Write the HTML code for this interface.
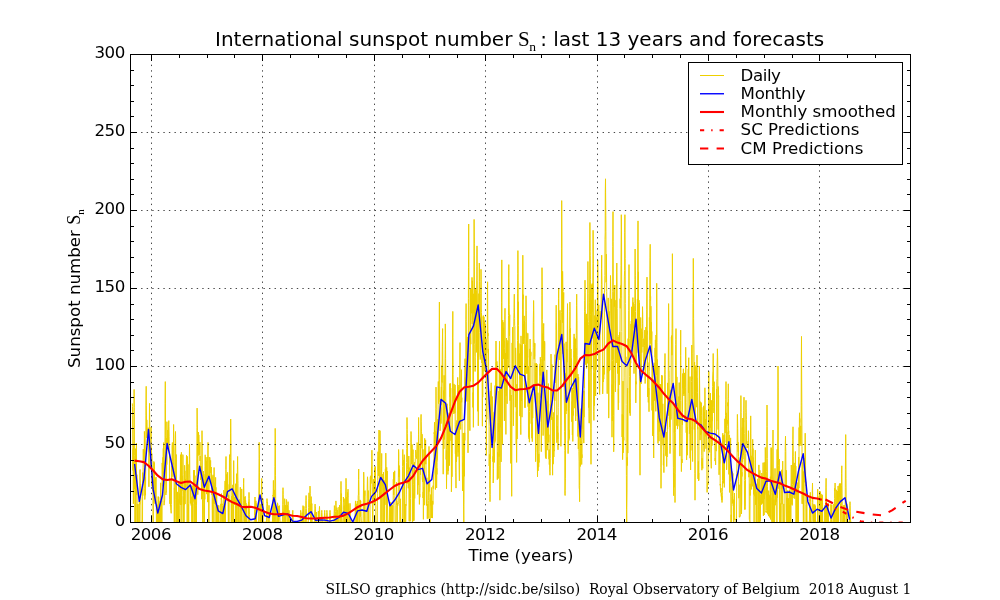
<!DOCTYPE html>
<html><head><meta charset="utf-8"><title>International sunspot number</title>
<style>html,body{margin:0;padding:0;background:#fff;width:1000px;height:600px;overflow:hidden}</style></head>
<body>
<svg width="1000" height="600" viewBox="0 0 1000 600" style="position:absolute;left:0;top:0">
<defs><clipPath id="ax"><rect x="130" y="54" width="780" height="468"/></clipPath></defs>
<rect x="0" y="0" width="1000" height="600" fill="#fff"/>
<g clip-path="url(#ax)" fill="none" stroke-linejoin="round">
<path d="M132.3,403.4 L132.5,406.5 L132.6,415.4 L132.8,447.7 L132.9,470.4 L133.1,449.7 L133.2,473.2 L133.4,503.8 L133.5,445.6 L133.7,447.1 L133.8,455.7 L134.0,407.9 L134.1,389.4 L134.3,407.6 L134.4,455.7 L134.6,488.9 L134.8,471.3 L134.9,522.0 L135.1,522.0 L135.2,481.0 L135.4,478.9 L135.5,448.7 L135.7,484.6 L135.8,522.0 L136.0,490.4 L136.1,489.2 L136.3,477.9 L136.4,443.1 L136.6,494.8 L136.7,483.4 L136.9,474.6 L137.0,475.6 L137.2,522.0 L137.3,503.9 L137.5,522.0 L137.7,522.0 L137.8,522.0 L138.0,522.0 L138.1,522.0 L138.3,522.0 L138.4,522.0 L138.6,522.0 L138.7,522.0 L138.9,504.9 L139.0,504.0 L139.2,522.0 L139.3,500.9 L139.5,504.6 L139.6,500.9 L139.8,504.3 L139.9,472.1 L140.1,469.5 L140.2,478.1 L140.4,493.4 L140.5,485.0 L140.7,484.2 L140.9,503.2 L141.0,522.0 L141.2,522.0 L141.3,522.0 L141.5,522.0 L141.6,522.0 L141.8,522.0 L141.9,522.0 L142.1,522.0 L142.2,522.0 L142.4,522.0 L142.5,522.0 L142.7,472.6 L142.8,495.6 L143.0,485.3 L143.1,467.6 L143.3,449.1 L143.4,460.3 L143.6,459.8 L143.8,457.8 L143.9,451.1 L144.1,449.8 L144.2,454.0 L144.4,431.4 L144.5,434.9 L144.7,488.6 L144.8,499.5 L145.0,497.2 L145.1,494.2 L145.3,477.2 L145.4,495.2 L145.6,482.8 L145.7,465.6 L145.9,415.9 L146.0,400.1 L146.2,386.3 L146.3,405.8 L146.5,422.3 L146.7,437.7 L146.8,419.9 L147.0,429.1 L147.1,438.1 L147.3,438.3 L147.4,437.2 L147.6,429.9 L147.7,428.9 L147.9,439.9 L148.0,437.9 L148.2,427.7 L148.3,436.1 L148.5,445.5 L148.6,451.7 L148.8,433.8 L148.9,486.8 L149.1,451.2 L149.2,443.0 L149.4,419.7 L149.5,403.4 L149.7,420.7 L149.9,446.6 L150.0,452.9 L150.2,449.2 L150.3,469.1 L150.5,456.0 L150.6,445.6 L150.8,443.5 L150.9,440.4 L151.1,427.1 L151.2,462.9 L151.4,452.6 L151.5,447.5 L151.7,474.0 L151.8,453.6 L152.0,486.4 L152.1,477.0 L152.3,485.4 L152.4,482.8 L152.6,491.3 L152.8,476.9 L152.9,482.5 L153.1,522.0 L153.2,522.0 L153.4,503.6 L153.5,493.6 L153.7,497.4 L153.8,461.4 L154.0,469.1 L154.1,482.7 L154.3,462.6 L154.4,462.6 L154.6,476.2 L154.7,501.9 L154.9,503.0 L155.0,503.8 L155.2,501.5 L155.3,478.1 L155.5,503.8 L155.7,503.3 L155.8,500.3 L156.0,477.0 L156.1,498.4 L156.3,505.5 L156.4,522.0 L156.6,522.0 L156.7,522.0 L156.9,522.0 L157.0,504.6 L157.2,504.4 L157.3,522.0 L157.5,522.0 L157.6,505.3 L157.8,522.0 L157.9,522.0 L158.1,522.0 L158.2,496.5 L158.4,522.0 L158.5,522.0 L158.7,497.2 L158.9,522.0 L159.0,500.9 L159.2,505.5 L159.3,504.7 L159.5,522.0 L159.6,522.0 L159.8,522.0 L159.9,505.9 L160.1,522.0 L160.2,522.0 L160.4,522.0 L160.5,488.9 L160.7,482.8 L160.8,496.0 L161.0,505.0 L161.1,522.0 L161.3,501.1 L161.4,503.1 L161.6,503.9 L161.8,522.0 L161.9,522.0 L162.1,502.3 L162.2,462.9 L162.4,477.3 L162.5,486.3 L162.7,478.6 L162.8,459.9 L163.0,457.3 L163.1,465.2 L163.3,448.4 L163.4,473.5 L163.6,458.9 L163.7,442.6 L163.9,481.5 L164.0,505.2 L164.2,504.9 L164.3,501.3 L164.5,502.2 L164.7,499.0 L164.8,464.2 L165.0,437.9 L165.1,403.7 L165.3,381.6 L165.4,403.1 L165.6,435.9 L165.7,462.7 L165.9,495.0 L166.0,492.1 L166.2,491.6 L166.3,492.3 L166.5,470.0 L166.6,438.3 L166.8,464.6 L166.9,421.7 L167.1,431.8 L167.2,444.2 L167.4,443.1 L167.5,430.2 L167.7,431.0 L167.9,443.0 L168.0,450.3 L168.2,446.2 L168.3,430.9 L168.5,443.2 L168.6,424.1 L168.8,420.6 L168.9,426.3 L169.1,436.2 L169.2,450.4 L169.4,452.3 L169.5,451.9 L169.7,499.4 L169.8,503.0 L170.0,503.9 L170.1,479.8 L170.3,481.6 L170.4,506.2 L170.6,504.6 L170.8,510.3 L170.9,510.8 L171.1,512.0 L171.2,513.3 L171.4,504.4 L171.5,466.0 L171.7,478.1 L171.8,476.0 L172.0,463.3 L172.1,446.2 L172.3,444.5 L172.4,442.5 L172.6,461.2 L172.7,468.8 L172.9,465.3 L173.0,476.8 L173.2,462.9 L173.3,464.5 L173.5,436.0 L173.6,424.5 L173.8,444.0 L174.0,448.9 L174.1,467.4 L174.3,522.0 L174.4,487.8 L174.6,522.0 L174.7,522.0 L174.9,494.1 L175.0,476.7 L175.2,458.6 L175.3,435.8 L175.5,431.5 L175.6,438.2 L175.8,458.1 L175.9,499.4 L176.1,522.0 L176.2,454.5 L176.4,490.8 L176.5,488.6 L176.7,522.0 L176.9,503.3 L177.0,522.0 L177.2,522.0 L177.3,493.2 L177.5,522.0 L177.6,491.9 L177.8,522.0 L177.9,522.0 L178.1,499.0 L178.2,522.0 L178.4,503.5 L178.5,522.0 L178.7,489.9 L178.8,483.2 L179.0,486.8 L179.1,483.1 L179.3,503.3 L179.4,493.5 L179.6,500.3 L179.8,505.6 L179.9,522.0 L180.1,490.1 L180.2,477.8 L180.4,473.4 L180.5,454.7 L180.7,505.0 L180.8,457.6 L181.0,473.5 L181.1,466.4 L181.3,476.5 L181.4,452.3 L181.6,504.7 L181.7,496.4 L181.9,522.0 L182.0,475.9 L182.2,489.1 L182.3,480.7 L182.5,488.0 L182.6,490.4 L182.8,454.6 L183.0,455.3 L183.1,474.2 L183.3,495.6 L183.4,501.3 L183.6,522.0 L183.7,522.0 L183.9,490.4 L184.0,522.0 L184.2,504.0 L184.3,499.0 L184.5,505.1 L184.6,465.3 L184.8,480.4 L184.9,470.8 L185.1,504.1 L185.2,493.8 L185.4,490.0 L185.5,479.2 L185.7,486.0 L185.9,487.1 L186.0,486.3 L186.2,477.3 L186.3,464.7 L186.5,455.2 L186.6,464.3 L186.8,466.3 L186.9,486.2 L187.1,486.8 L187.2,522.0 L187.4,456.4 L187.5,460.6 L187.7,468.2 L187.8,484.0 L188.0,464.4 L188.1,522.0 L188.3,522.0 L188.4,504.3 L188.6,522.0 L188.8,522.0 L188.9,489.2 L189.1,483.1 L189.2,468.3 L189.4,456.2 L189.5,444.0 L189.7,459.6 L189.8,474.2 L190.0,478.8 L190.1,487.0 L190.3,488.1 L190.4,503.4 L190.6,484.0 L190.7,487.9 L190.9,485.5 L191.0,495.7 L191.2,505.5 L191.3,499.0 L191.5,496.8 L191.6,499.4 L191.8,522.0 L192.0,504.7 L192.1,503.3 L192.3,500.7 L192.4,485.6 L192.6,522.0 L192.7,503.9 L192.9,522.0 L193.0,522.0 L193.2,503.9 L193.3,500.8 L193.5,492.2 L193.6,470.2 L193.8,495.4 L193.9,501.3 L194.1,495.4 L194.2,479.1 L194.4,478.4 L194.5,470.1 L194.7,522.0 L194.9,478.2 L195.0,475.6 L195.2,504.0 L195.3,492.9 L195.5,501.6 L195.6,505.2 L195.8,522.0 L195.9,522.0 L196.1,501.9 L196.2,522.0 L196.4,522.0 L196.5,505.5 L196.7,493.5 L196.8,465.1 L197.0,427.4 L197.1,408.1 L197.3,424.2 L197.4,430.3 L197.6,458.1 L197.8,494.6 L197.9,444.6 L198.1,449.6 L198.2,455.6 L198.4,439.8 L198.5,432.1 L198.7,454.2 L198.8,434.9 L199.0,449.8 L199.1,451.1 L199.3,446.7 L199.4,452.4 L199.6,444.2 L199.7,454.8 L199.9,442.1 L200.0,460.9 L200.2,455.8 L200.3,459.8 L200.5,473.9 L200.6,479.8 L200.8,473.1 L201.0,466.0 L201.1,478.8 L201.3,472.1 L201.4,482.9 L201.6,499.2 L201.7,476.4 L201.9,449.0 L202.0,430.7 L202.2,449.0 L202.3,476.4 L202.5,499.2 L202.6,522.0 L202.8,522.0 L202.9,522.0 L203.1,522.0 L203.2,522.0 L203.4,471.1 L203.5,484.3 L203.7,493.5 L203.9,474.2 L204.0,505.4 L204.2,522.0 L204.3,505.0 L204.5,522.0 L204.6,481.8 L204.8,499.3 L204.9,486.3 L205.1,466.6 L205.2,454.8 L205.4,477.0 L205.5,476.0 L205.7,484.3 L205.8,457.2 L206.0,469.2 L206.1,466.5 L206.3,465.6 L206.4,460.9 L206.6,494.1 L206.8,483.3 L206.9,471.6 L207.1,457.2 L207.2,467.2 L207.4,483.4 L207.5,502.1 L207.7,482.2 L207.8,458.4 L208.0,442.4 L208.1,454.9 L208.3,482.2 L208.4,502.1 L208.6,492.9 L208.7,522.0 L208.9,522.0 L209.0,522.0 L209.2,457.2 L209.3,459.2 L209.5,466.7 L209.6,477.7 L209.8,457.4 L210.0,472.8 L210.1,470.3 L210.3,468.3 L210.4,472.3 L210.6,460.4 L210.7,467.8 L210.9,472.3 L211.0,467.1 L211.2,481.7 L211.3,467.1 L211.5,476.7 L211.6,493.2 L211.8,494.8 L211.9,492.7 L212.1,476.4 L212.2,504.3 L212.4,522.0 L212.5,498.3 L212.7,522.0 L212.9,503.4 L213.0,474.8 L213.2,480.6 L213.3,503.4 L213.5,498.8 L213.6,499.5 L213.8,504.7 L213.9,522.0 L214.1,467.5 L214.2,502.8 L214.4,502.0 L214.5,503.6 L214.7,499.1 L214.8,488.8 L215.0,482.7 L215.1,490.0 L215.3,485.5 L215.4,493.3 L215.6,477.4 L215.8,504.8 L215.9,487.3 L216.1,522.0 L216.2,503.9 L216.4,522.0 L216.5,502.8 L216.7,492.9 L216.8,504.7 L217.0,522.0 L217.1,522.0 L217.3,522.0 L217.4,522.0 L217.6,522.0 L217.7,505.2 L217.9,505.6 L218.0,522.0 L218.2,522.0 L218.3,522.0 L218.5,522.0 L218.6,522.0 L218.8,505.4 L219.0,522.0 L219.1,522.0 L219.3,522.0 L219.4,522.0 L219.6,522.0 L219.7,522.0 L219.9,522.0 L220.0,522.0 L220.2,522.0 L220.3,522.0 L220.5,522.0 L220.6,522.0 L220.8,522.0 L220.9,503.8 L221.1,522.0 L221.2,498.2 L221.4,499.8 L221.5,493.6 L221.7,500.1 L221.9,500.2 L222.0,505.3 L222.2,503.8 L222.3,522.0 L222.5,522.0 L222.6,522.0 L222.8,506.0 L222.9,522.0 L223.1,522.0 L223.2,522.0 L223.4,522.0 L223.5,522.0 L223.7,522.0 L223.8,490.1 L224.0,493.4 L224.1,522.0 L224.3,504.7 L224.4,522.0 L224.6,492.0 L224.7,522.0 L224.9,487.1 L225.1,480.9 L225.2,500.8 L225.4,522.0 L225.5,505.6 L225.7,489.2 L225.8,469.6 L226.0,456.5 L226.1,469.6 L226.3,489.2 L226.4,479.3 L226.6,494.9 L226.7,474.4 L226.9,496.2 L227.0,475.5 L227.2,487.1 L227.3,496.5 L227.5,482.5 L227.6,472.3 L227.8,495.2 L228.0,494.7 L228.1,504.3 L228.3,522.0 L228.4,522.0 L228.6,522.0 L228.7,495.2 L228.9,522.0 L229.0,494.2 L229.2,484.4 L229.3,489.2 L229.5,457.0 L229.6,454.6 L229.8,456.5 L229.9,491.2 L230.1,478.0 L230.2,461.6 L230.4,457.4 L230.5,433.9 L230.7,419.0 L230.9,432.6 L231.0,462.2 L231.2,496.3 L231.3,522.0 L231.5,496.2 L231.6,522.0 L231.8,522.0 L231.9,504.6 L232.1,504.1 L232.2,504.4 L232.4,501.8 L232.5,492.4 L232.7,504.2 L232.8,484.8 L233.0,522.0 L233.1,499.7 L233.3,522.0 L233.4,499.7 L233.6,472.0 L233.7,460.6 L233.9,480.9 L234.1,504.5 L234.2,502.3 L234.4,497.2 L234.5,502.5 L234.7,504.8 L234.8,502.0 L235.0,504.5 L235.1,505.0 L235.3,505.4 L235.4,522.0 L235.6,492.1 L235.7,483.7 L235.9,522.0 L236.0,502.1 L236.2,504.1 L236.3,522.0 L236.5,503.5 L236.6,473.7 L236.8,500.6 L237.0,522.0 L237.1,493.1 L237.3,476.2 L237.4,469.6 L237.6,456.5 L237.7,465.5 L237.9,480.3 L238.0,483.5 L238.2,522.0 L238.3,503.8 L238.5,505.3 L238.6,505.1 L238.8,500.1 L238.9,522.0 L239.1,522.0 L239.2,522.0 L239.4,522.0 L239.5,522.0 L239.7,522.0 L239.9,504.6 L240.0,499.3 L240.2,503.5 L240.3,487.2 L240.5,505.6 L240.6,522.0 L240.8,522.0 L240.9,522.0 L241.1,522.0 L241.2,503.5 L241.4,522.0 L241.5,506.3 L241.7,488.9 L241.8,491.1 L242.0,522.0 L242.1,522.0 L242.3,522.0 L242.4,522.0 L242.6,522.0 L242.7,522.0 L242.9,522.0 L243.1,522.0 L243.2,511.1 L243.4,500.2 L243.5,483.5 L243.7,478.3 L243.8,487.1 L244.0,500.2 L244.1,511.1 L244.3,522.0 L244.4,522.0 L244.6,497.1 L244.7,522.0 L244.9,522.0 L245.0,501.3 L245.2,496.3 L245.3,522.0 L245.5,502.5 L245.6,500.4 L245.8,503.8 L246.0,503.0 L246.1,522.0 L246.3,522.0 L246.4,522.0 L246.6,522.0 L246.7,504.5 L246.9,522.0 L247.0,522.0 L247.2,522.0 L247.3,522.0 L247.5,522.0 L247.6,522.0 L247.8,522.0 L247.9,522.0 L248.1,522.0 L248.2,522.0 L248.4,522.0 L248.5,501.9 L248.7,507.2 L248.9,498.3 L249.0,492.4 L249.2,498.3 L249.3,507.2 L249.5,514.6 L249.6,522.0 L249.8,522.0 L249.9,522.0 L250.1,522.0 L250.2,522.0 L250.4,522.0 L250.5,522.0 L250.7,522.0 L250.8,522.0 L251.0,522.0 L251.1,522.0 L251.3,522.0 L251.4,522.0 L251.6,522.0 L251.7,522.0 L251.9,522.0 L252.1,522.0 L252.2,522.0 L252.4,522.0 L252.5,522.0 L252.7,522.0 L252.8,522.0 L253.0,522.0 L253.1,522.0 L253.3,522.0 L253.4,522.0 L253.6,522.0 L253.7,522.0 L253.9,522.0 L254.0,522.0 L254.2,522.0 L254.3,522.0 L254.5,515.8 L254.6,509.5 L254.8,502.0 L255.0,497.0 L255.1,498.7 L255.3,509.5 L255.4,515.8 L255.6,522.0 L255.7,522.0 L255.9,500.8 L256.0,522.0 L256.2,503.5 L256.3,522.0 L256.5,522.0 L256.6,522.0 L256.8,522.0 L256.9,522.0 L257.1,522.0 L257.2,522.0 L257.4,522.0 L257.5,522.0 L257.7,522.0 L257.9,522.0 L258.0,522.0 L258.2,522.0 L258.3,522.0 L258.5,522.0 L258.6,522.0 L258.8,502.1 L258.9,482.2 L259.1,458.4 L259.2,442.4 L259.4,454.8 L259.5,472.9 L259.7,502.1 L259.8,505.4 L260.0,522.0 L260.1,522.0 L260.3,504.6 L260.4,522.0 L260.6,522.0 L260.7,522.0 L260.9,505.5 L261.1,504.4 L261.2,504.2 L261.4,505.3 L261.5,522.0 L261.7,478.4 L261.8,503.7 L262.0,522.0 L262.1,522.0 L262.3,522.0 L262.4,522.0 L262.6,503.4 L262.7,522.0 L262.9,498.7 L263.0,522.0 L263.2,522.0 L263.3,522.0 L263.5,522.0 L263.6,522.0 L263.8,522.0 L264.0,522.0 L264.1,522.0 L264.3,522.0 L264.4,522.0 L264.6,522.0 L264.7,522.0 L264.9,522.0 L265.0,522.0 L265.2,522.0 L265.3,522.0 L265.5,522.0 L265.6,522.0 L265.8,522.0 L265.9,522.0 L266.1,522.0 L266.2,522.0 L266.4,522.0 L266.5,516.1 L266.7,510.3 L266.9,503.3 L267.0,498.6 L267.2,503.3 L267.3,502.2 L267.5,503.2 L267.6,506.2 L267.8,522.0 L267.9,522.0 L268.1,522.0 L268.2,522.0 L268.4,522.0 L268.5,522.0 L268.7,522.0 L268.8,522.0 L269.0,505.3 L269.1,522.0 L269.3,522.0 L269.4,522.0 L269.6,522.0 L269.7,522.0 L269.9,522.0 L270.1,522.0 L270.2,522.0 L270.4,522.0 L270.5,522.0 L270.7,522.0 L270.8,522.0 L271.0,522.0 L271.1,522.0 L271.3,522.0 L271.4,522.0 L271.6,522.0 L271.7,522.0 L271.9,522.0 L272.0,522.0 L272.2,522.0 L272.3,522.0 L272.5,522.0 L272.6,504.9 L272.8,503.5 L273.0,495.0 L273.1,496.0 L273.3,490.4 L273.4,480.4 L273.6,522.0 L273.7,505.4 L273.9,504.2 L274.0,522.0 L274.2,489.9 L274.3,502.4 L274.5,522.0 L274.6,522.0 L274.8,498.6 L274.9,466.3 L275.1,443.8 L275.2,428.4 L275.4,447.1 L275.5,475.2 L275.7,498.6 L275.8,522.0 L276.0,505.9 L276.2,522.0 L276.3,522.0 L276.5,522.0 L276.6,522.0 L276.8,522.0 L276.9,522.0 L277.1,522.0 L277.2,522.0 L277.4,522.0 L277.5,502.8 L277.7,504.1 L277.8,504.0 L278.0,522.0 L278.1,522.0 L278.3,522.0 L278.4,522.0 L278.6,506.1 L278.7,522.0 L278.9,517.9 L279.1,513.8 L279.2,508.9 L279.4,505.6 L279.5,508.9 L279.7,513.8 L279.8,517.9 L280.0,522.0 L280.1,522.0 L280.3,522.0 L280.4,522.0 L280.6,522.0 L280.7,522.0 L280.9,522.0 L281.0,522.0 L281.2,522.0 L281.3,522.0 L281.5,522.0 L281.6,522.0 L281.8,522.0 L282.0,522.0 L282.1,522.0 L282.3,522.0 L282.4,522.0 L282.6,513.4 L282.7,504.8 L282.9,490.6 L283.0,487.7 L283.2,494.5 L283.3,504.8 L283.5,513.4 L283.6,522.0 L283.8,522.0 L283.9,522.0 L284.1,522.0 L284.2,522.0 L284.4,522.0 L284.5,522.0 L284.7,498.7 L284.8,503.3 L285.0,522.0 L285.2,505.0 L285.3,505.3 L285.5,522.0 L285.6,522.0 L285.8,522.0 L285.9,505.7 L286.1,516.4 L286.2,510.8 L286.4,500.6 L286.5,499.5 L286.7,500.9 L286.8,510.8 L287.0,516.4 L287.1,522.0 L287.3,522.0 L287.4,505.1 L287.6,516.9 L287.7,511.9 L287.9,505.8 L288.1,501.7 L288.2,505.8 L288.4,511.9 L288.5,516.9 L288.7,522.0 L288.8,522.0 L289.0,510.3 L289.1,510.5 L289.3,522.0 L289.4,522.0 L289.6,522.0 L289.7,522.0 L289.9,522.0 L290.0,522.0 L290.2,522.0 L290.3,522.0 L290.5,522.0 L290.6,522.0 L290.8,522.0 L291.0,522.0 L291.1,522.0 L291.3,522.0 L291.4,522.0 L291.6,522.0 L291.7,522.0 L291.9,522.0 L292.0,522.0 L292.2,522.0 L292.3,519.1 L292.5,512.3 L292.6,512.6 L292.8,510.3 L292.9,512.6 L293.1,516.1 L293.2,519.1 L293.4,522.0 L293.5,522.0 L293.7,522.0 L293.8,522.0 L294.0,522.0 L294.2,522.0 L294.3,522.0 L294.5,522.0 L294.6,522.0 L294.8,522.0 L294.9,522.0 L295.1,522.0 L295.2,522.0 L295.4,522.0 L295.5,522.0 L295.7,522.0 L295.8,522.0 L296.0,522.0 L296.1,522.0 L296.3,522.0 L296.4,522.0 L296.6,522.0 L296.7,522.0 L296.9,522.0 L297.1,522.0 L297.2,522.0 L297.4,522.0 L297.5,522.0 L297.7,522.0 L297.8,522.0 L298.0,522.0 L298.1,522.0 L298.3,522.0 L298.4,522.0 L298.6,522.0 L298.7,522.0 L298.9,522.0 L299.0,522.0 L299.2,522.0 L299.3,522.0 L299.5,522.0 L299.6,522.0 L299.8,522.0 L300.0,522.0 L300.1,522.0 L300.3,519.1 L300.4,516.1 L300.6,512.6 L300.7,510.3 L300.9,512.6 L301.0,516.1 L301.2,519.1 L301.3,522.0 L301.5,522.0 L301.6,522.0 L301.8,522.0 L301.9,522.0 L302.1,522.0 L302.2,512.6 L302.4,522.0 L302.5,517.9 L302.7,513.8 L302.8,508.9 L303.0,505.6 L303.2,508.9 L303.3,513.8 L303.5,507.6 L303.6,522.0 L303.8,522.0 L303.9,506.3 L304.1,522.0 L304.2,522.0 L304.4,522.0 L304.5,522.0 L304.7,522.0 L304.8,522.0 L305.0,522.0 L305.1,522.0 L305.3,522.0 L305.4,522.0 L305.6,515.4 L305.7,508.7 L305.9,500.8 L306.1,495.5 L306.2,500.8 L306.4,508.7 L306.5,515.4 L306.7,522.0 L306.8,522.0 L307.0,522.0 L307.1,522.0 L307.3,522.0 L307.4,522.0 L307.6,522.0 L307.7,522.0 L307.9,522.0 L308.0,522.0 L308.2,522.0 L308.3,522.0 L308.5,514.7 L308.6,507.4 L308.8,498.7 L309.0,492.8 L309.1,498.7 L309.3,507.4 L309.4,514.7 L309.6,513.0 L309.7,504.1 L309.9,493.3 L310.0,486.1 L310.2,493.3 L310.3,504.1 L310.5,513.0 L310.6,522.0 L310.8,504.0 L310.9,522.0 L311.1,522.0 L311.2,496.6 L311.4,522.0 L311.5,503.5 L311.7,503.2 L311.8,504.3 L312.0,503.9 L312.2,522.0 L312.3,522.0 L312.5,522.0 L312.6,522.0 L312.8,522.0 L312.9,522.0 L313.1,522.0 L313.2,522.0 L313.4,522.0 L313.5,522.0 L313.7,522.0 L313.8,522.0 L314.0,522.0 L314.1,522.0 L314.3,522.0 L314.4,522.0 L314.6,517.5 L314.7,513.0 L314.9,507.6 L315.1,504.1 L315.2,507.6 L315.4,507.1 L315.5,517.5 L315.7,522.0 L315.8,522.0 L316.0,512.1 L316.1,522.0 L316.3,512.2 L316.4,522.0 L316.6,512.0 L316.7,522.0 L316.9,522.0 L317.0,522.0 L317.2,522.0 L317.3,522.0 L317.5,522.0 L317.6,522.0 L317.8,522.0 L318.0,522.0 L318.1,522.0 L318.3,522.0 L318.4,511.0 L318.6,522.0 L318.7,522.0 L318.9,522.0 L319.0,518.1 L319.2,514.2 L319.3,509.5 L319.5,506.4 L319.6,509.5 L319.8,514.2 L319.9,518.1 L320.1,522.0 L320.2,522.0 L320.4,522.0 L320.5,522.0 L320.7,522.0 L320.8,522.0 L321.0,522.0 L321.2,522.0 L321.3,519.1 L321.5,516.1 L321.6,512.6 L321.8,510.3 L321.9,512.6 L322.1,516.1 L322.2,519.1 L322.4,522.0 L322.5,522.0 L322.7,522.0 L322.8,522.0 L323.0,522.0 L323.1,522.0 L323.3,522.0 L323.4,522.0 L323.6,522.0 L323.7,522.0 L323.9,522.0 L324.1,522.0 L324.2,519.1 L324.4,516.1 L324.5,512.6 L324.7,510.3 L324.8,512.6 L325.0,516.1 L325.1,519.1 L325.3,522.0 L325.4,522.0 L325.6,522.0 L325.7,522.0 L325.9,522.0 L326.0,522.0 L326.2,522.0 L326.3,522.0 L326.5,519.1 L326.6,516.1 L326.8,512.6 L326.9,510.3 L327.1,512.6 L327.3,516.1 L327.4,519.1 L327.6,522.0 L327.7,522.0 L327.9,522.0 L328.0,522.0 L328.2,522.0 L328.3,522.0 L328.5,522.0 L328.6,522.0 L328.8,522.0 L328.9,522.0 L329.1,522.0 L329.2,522.0 L329.4,522.0 L329.5,519.1 L329.7,516.1 L329.8,512.6 L330.0,510.3 L330.2,512.6 L330.3,516.1 L330.5,519.1 L330.6,522.0 L330.8,522.0 L330.9,522.0 L331.1,522.0 L331.2,522.0 L331.4,522.0 L331.5,522.0 L331.7,522.0 L331.8,522.0 L332.0,522.0 L332.1,522.0 L332.3,522.0 L332.4,522.0 L332.6,522.0 L332.7,522.0 L332.9,522.0 L333.1,522.0 L333.2,522.0 L333.4,522.0 L333.5,522.0 L333.7,522.0 L333.8,522.0 L334.0,517.9 L334.1,513.8 L334.3,508.9 L334.4,505.6 L334.6,508.9 L334.7,513.8 L334.9,517.9 L335.0,522.0 L335.2,522.0 L335.3,522.0 L335.5,516.7 L335.6,511.5 L335.8,505.2 L335.9,500.9 L336.1,505.2 L336.3,511.5 L336.4,516.7 L336.6,522.0 L336.7,522.0 L336.9,507.6 L337.0,510.0 L337.2,522.0 L337.3,522.0 L337.5,522.0 L337.6,510.1 L337.8,522.0 L337.9,522.0 L338.1,522.0 L338.2,522.0 L338.4,522.0 L338.5,518.3 L338.7,514.5 L338.8,510.0 L339.0,507.0 L339.2,510.0 L339.3,514.5 L339.5,518.3 L339.6,505.1 L339.8,522.0 L339.9,522.0 L340.1,522.0 L340.2,522.0 L340.4,522.0 L340.5,511.9 L340.7,501.7 L340.8,489.6 L341.0,481.4 L341.1,485.9 L341.3,501.7 L341.4,493.6 L341.6,522.0 L341.7,522.0 L341.9,522.0 L342.1,522.0 L342.2,522.0 L342.4,522.0 L342.5,522.0 L342.7,522.0 L342.8,522.0 L343.0,515.8 L343.1,509.5 L343.3,502.0 L343.4,497.0 L343.6,502.0 L343.7,499.5 L343.9,502.4 L344.0,522.0 L344.2,505.5 L344.3,522.0 L344.5,522.0 L344.6,522.0 L344.8,522.0 L344.9,498.6 L345.1,522.0 L345.3,522.0 L345.4,522.0 L345.6,511.1 L345.7,491.9 L345.9,487.1 L346.0,478.3 L346.2,483.8 L346.3,500.2 L346.5,511.1 L346.6,497.2 L346.8,522.0 L346.9,505.1 L347.1,522.0 L347.2,522.0 L347.4,522.0 L347.5,492.5 L347.7,497.2 L347.8,495.8 L348.0,489.2 L348.2,495.8 L348.3,505.6 L348.5,513.8 L348.6,503.6 L348.8,522.0 L348.9,522.0 L349.1,522.0 L349.2,522.0 L349.4,522.0 L349.5,517.3 L349.7,512.6 L349.8,507.0 L350.0,503.3 L350.1,504.1 L350.3,512.6 L350.4,517.3 L350.6,522.0 L350.7,522.0 L350.9,522.0 L351.1,522.0 L351.2,522.0 L351.4,522.0 L351.5,522.0 L351.7,522.0 L351.8,522.0 L352.0,522.0 L352.1,522.0 L352.3,522.0 L352.4,522.0 L352.6,522.0 L352.7,522.0 L352.9,522.0 L353.0,522.0 L353.2,522.0 L353.3,522.0 L353.5,522.0 L353.6,522.0 L353.8,522.0 L353.9,522.0 L354.1,522.0 L354.3,522.0 L354.4,522.0 L354.6,522.0 L354.7,522.0 L354.9,522.0 L355.0,516.7 L355.2,511.5 L355.3,505.2 L355.5,500.9 L355.6,505.2 L355.8,511.5 L355.9,503.6 L356.1,522.0 L356.2,522.0 L356.4,504.3 L356.5,522.0 L356.7,522.0 L356.8,505.8 L357.0,504.7 L357.2,522.0 L357.3,501.0 L357.5,522.0 L357.6,522.0 L357.8,522.0 L357.9,522.0 L358.1,522.0 L358.2,495.4 L358.4,495.5 L358.5,479.6 L358.7,469.0 L358.8,479.6 L359.0,495.5 L359.1,508.7 L359.3,522.0 L359.4,522.0 L359.6,522.0 L359.7,522.0 L359.9,522.0 L360.1,499.9 L360.2,516.7 L360.4,511.5 L360.5,505.2 L360.7,500.9 L360.8,505.2 L361.0,511.5 L361.1,516.7 L361.3,522.0 L361.4,522.0 L361.6,522.0 L361.7,522.0 L361.9,522.0 L362.0,522.0 L362.2,522.0 L362.3,522.0 L362.5,522.0 L362.6,522.0 L362.8,522.0 L362.9,522.0 L363.1,522.0 L363.3,509.5 L363.4,497.0 L363.6,482.1 L363.7,472.1 L363.9,477.1 L364.0,483.8 L364.2,509.5 L364.3,522.0 L364.5,491.1 L364.6,496.2 L364.8,494.6 L364.9,490.7 L365.1,490.6 L365.2,522.0 L365.4,522.0 L365.5,522.0 L365.7,522.0 L365.8,522.0 L366.0,522.0 L366.2,522.0 L366.3,522.0 L366.5,522.0 L366.6,522.0 L366.8,522.0 L366.9,522.0 L367.1,498.8 L367.2,491.0 L367.4,479.4 L367.5,476.8 L367.7,480.1 L367.8,489.1 L368.0,510.7 L368.1,522.0 L368.3,490.6 L368.4,505.3 L368.6,522.0 L368.7,522.0 L368.9,522.0 L369.1,522.0 L369.2,522.0 L369.4,522.0 L369.5,522.0 L369.7,522.0 L369.8,522.0 L370.0,522.0 L370.1,488.3 L370.3,478.2 L370.4,476.8 L370.6,496.3 L370.7,481.4 L370.9,475.7 L371.0,483.5 L371.2,476.0 L371.3,479.2 L371.5,466.8 L371.6,476.4 L371.8,459.9 L371.9,450.2 L372.1,464.6 L372.3,486.1 L372.4,504.1 L372.6,522.0 L372.7,522.0 L372.9,522.0 L373.0,504.9 L373.2,504.3 L373.3,503.7 L373.5,483.4 L373.6,479.2 L373.8,500.7 L373.9,488.1 L374.1,489.0 L374.2,486.0 L374.4,504.7 L374.5,471.8 L374.7,467.7 L374.8,494.6 L375.0,479.4 L375.2,502.3 L375.3,466.4 L375.5,485.6 L375.6,505.0 L375.8,505.2 L375.9,522.0 L376.1,522.0 L376.2,522.0 L376.4,522.0 L376.5,522.0 L376.7,522.0 L376.8,522.0 L377.0,522.0 L377.1,522.0 L377.3,522.0 L377.4,493.6 L377.6,489.5 L377.7,480.5 L377.9,466.0 L378.0,451.7 L378.2,471.2 L378.4,457.7 L378.5,475.7 L378.7,459.4 L378.8,444.7 L379.0,430.0 L379.1,448.4 L379.3,476.0 L379.4,499.0 L379.6,499.2 L379.7,459.4 L379.9,449.0 L380.0,430.7 L380.2,449.0 L380.3,476.4 L380.5,499.2 L380.6,482.0 L380.8,486.3 L380.9,522.0 L381.1,489.7 L381.3,480.3 L381.4,471.9 L381.6,466.6 L381.7,453.4 L381.9,522.0 L382.0,522.0 L382.2,522.0 L382.3,482.6 L382.5,479.4 L382.6,479.1 L382.8,485.8 L382.9,474.0 L383.1,482.0 L383.2,484.4 L383.4,492.5 L383.5,472.0 L383.7,492.6 L383.8,522.0 L384.0,503.8 L384.2,484.7 L384.3,522.0 L384.5,505.0 L384.6,480.5 L384.8,496.6 L384.9,504.9 L385.1,504.1 L385.2,486.4 L385.4,468.8 L385.5,483.3 L385.7,477.8 L385.8,453.1 L386.0,473.4 L386.1,473.8 L386.3,522.0 L386.4,522.0 L386.6,522.0 L386.7,467.3 L386.9,501.8 L387.0,483.4 L387.2,471.0 L387.4,500.9 L387.5,503.9 L387.7,522.0 L387.8,522.0 L388.0,522.0 L388.1,522.0 L388.3,522.0 L388.4,522.0 L388.6,522.0 L388.7,522.0 L388.9,522.0 L389.0,522.0 L389.2,522.0 L389.3,522.0 L389.5,502.9 L389.6,522.0 L389.8,522.0 L389.9,522.0 L390.1,504.3 L390.3,522.0 L390.4,522.0 L390.6,522.0 L390.7,501.9 L390.9,522.0 L391.0,522.0 L391.2,522.0 L391.3,504.7 L391.5,505.4 L391.6,522.0 L391.8,522.0 L391.9,522.0 L392.1,522.0 L392.2,522.0 L392.4,522.0 L392.5,522.0 L392.7,505.1 L392.8,522.0 L393.0,522.0 L393.2,505.3 L393.3,479.3 L393.5,491.6 L393.6,494.6 L393.8,472.2 L393.9,483.3 L394.1,472.7 L394.2,482.9 L394.4,471.9 L394.5,481.5 L394.7,470.8 L394.8,495.3 L395.0,505.4 L395.1,522.0 L395.3,522.0 L395.4,522.0 L395.6,522.0 L395.7,522.0 L395.9,522.0 L396.0,522.0 L396.2,505.4 L396.4,504.0 L396.5,482.4 L396.7,505.0 L396.8,501.1 L397.0,504.1 L397.1,522.0 L397.3,522.0 L397.4,503.4 L397.6,504.1 L397.7,505.9 L397.9,503.5 L398.0,504.1 L398.2,503.9 L398.3,485.7 L398.5,460.3 L398.6,449.5 L398.8,454.3 L398.9,477.0 L399.1,465.5 L399.3,474.5 L399.4,469.0 L399.6,469.9 L399.7,503.5 L399.9,522.0 L400.0,522.0 L400.2,522.0 L400.3,522.0 L400.5,498.8 L400.6,522.0 L400.8,522.0 L400.9,522.0 L401.1,522.0 L401.2,522.0 L401.4,522.0 L401.5,522.0 L401.7,522.0 L401.8,522.0 L402.0,522.0 L402.2,522.0 L402.3,522.0 L402.5,489.2 L402.6,466.4 L402.8,449.4 L402.9,456.2 L403.1,460.7 L403.2,465.2 L403.4,462.0 L403.5,460.0 L403.7,464.1 L403.8,522.0 L404.0,522.0 L404.1,522.0 L404.3,454.7 L404.4,467.9 L404.6,483.6 L404.7,522.0 L404.9,504.2 L405.0,505.2 L405.2,504.5 L405.4,521.9 L405.5,521.9 L405.7,521.9 L405.8,521.9 L406.0,504.4 L406.1,505.5 L406.3,494.1 L406.4,484.9 L406.6,462.5 L406.7,448.6 L406.9,429.5 L407.0,417.5 L407.2,429.3 L407.3,433.6 L407.5,441.2 L407.6,469.6 L407.8,483.5 L407.9,476.0 L408.1,476.2 L408.3,488.3 L408.4,464.8 L408.6,479.6 L408.7,456.0 L408.9,456.3 L409.0,472.4 L409.2,521.3 L409.3,475.3 L409.5,467.6 L409.6,479.9 L409.8,521.2 L409.9,521.3 L410.1,521.2 L410.2,521.2 L410.4,521.1 L410.5,498.7 L410.7,476.3 L410.8,442.3 L411.0,431.5 L411.2,434.6 L411.3,441.9 L411.5,450.1 L411.6,464.1 L411.8,456.2 L411.9,452.0 L412.1,444.5 L412.2,459.8 L412.4,522.0 L412.5,522.0 L412.7,522.0 L412.8,460.9 L413.0,449.6 L413.1,454.6 L413.3,484.4 L413.4,496.2 L413.6,520.7 L413.7,493.8 L413.9,520.7 L414.0,520.4 L414.2,501.9 L414.4,462.3 L414.5,477.7 L414.7,498.4 L414.8,492.2 L415.0,464.4 L415.1,463.3 L415.3,458.7 L415.4,458.7 L415.6,457.8 L415.7,450.0 L415.9,452.0 L416.0,452.0 L416.2,455.2 L416.3,455.7 L416.5,458.6 L416.6,457.8 L416.8,456.6 L416.9,454.0 L417.1,442.6 L417.3,444.3 L417.4,479.5 L417.6,481.6 L417.7,494.5 L417.9,467.3 L418.0,485.1 L418.2,469.7 L418.3,460.5 L418.5,434.7 L418.6,417.5 L418.8,438.0 L418.9,468.5 L419.1,494.1 L419.2,494.6 L419.4,504.4 L419.5,501.0 L419.7,494.1 L419.8,497.2 L420.0,487.4 L420.2,445.1 L420.3,458.7 L420.5,474.6 L420.6,457.7 L420.8,431.0 L420.9,417.9 L421.1,414.4 L421.2,421.8 L421.4,429.0 L421.5,431.8 L421.7,435.2 L421.8,441.7 L422.0,448.3 L422.1,434.2 L422.3,450.8 L422.4,479.6 L422.6,449.0 L422.7,481.9 L422.9,469.0 L423.0,498.0 L423.2,491.9 L423.4,519.3 L423.5,502.4 L423.7,487.0 L423.8,496.8 L424.0,449.5 L424.1,479.5 L424.3,505.2 L424.4,469.7 L424.6,447.6 L424.7,438.3 L424.9,452.6 L425.0,455.9 L425.2,456.5 L425.3,457.0 L425.5,450.4 L425.6,439.9 L425.8,464.2 L425.9,455.6 L426.1,477.8 L426.3,500.7 L426.4,505.4 L426.6,505.5 L426.7,503.5 L426.9,477.7 L427.0,494.7 L427.2,504.0 L427.3,518.8 L427.5,505.0 L427.6,504.0 L427.8,504.5 L427.9,504.4 L428.1,518.5 L428.2,517.9 L428.4,500.6 L428.5,480.2 L428.7,484.3 L428.8,473.3 L429.0,446.4 L429.1,491.6 L429.3,455.6 L429.5,461.7 L429.6,476.4 L429.8,483.6 L429.9,522.0 L430.1,522.0 L430.2,522.0 L430.4,498.1 L430.5,505.2 L430.7,503.4 L430.8,494.5 L431.0,500.7 L431.1,502.1 L431.3,496.6 L431.4,518.0 L431.6,487.5 L431.7,493.8 L431.9,503.9 L432.0,517.5 L432.2,517.8 L432.4,518.1 L432.5,518.0 L432.7,500.9 L432.8,504.6 L433.0,503.7 L433.1,485.7 L433.3,488.6 L433.4,479.9 L433.6,474.3 L433.7,474.5 L433.9,473.1 L434.0,448.2 L434.2,432.3 L434.3,434.0 L434.5,422.2 L434.6,437.8 L434.8,456.0 L434.9,430.9 L435.1,470.4 L435.3,484.5 L435.4,489.5 L435.6,469.7 L435.7,452.3 L435.9,408.8 L436.0,387.1 L436.2,409.4 L436.3,430.4 L436.5,442.9 L436.6,488.0 L436.8,468.3 L436.9,474.4 L437.1,462.4 L437.2,460.2 L437.4,460.3 L437.5,457.0 L437.7,439.4 L437.8,419.2 L438.0,441.2 L438.1,395.7 L438.3,381.5 L438.5,403.6 L438.6,394.9 L438.8,402.1 L438.9,393.3 L439.1,368.5 L439.2,329.0 L439.4,302.0 L439.5,321.2 L439.7,379.5 L439.8,399.2 L440.0,405.7 L440.1,430.8 L440.3,412.4 L440.4,412.9 L440.6,414.7 L440.7,420.2 L440.9,407.5 L441.0,423.6 L441.2,393.5 L441.4,386.9 L441.5,405.0 L441.7,382.8 L441.8,365.6 L442.0,382.6 L442.1,372.8 L442.3,346.3 L442.4,342.1 L442.6,328.6 L442.7,341.7 L442.9,380.4 L443.0,386.2 L443.2,474.2 L443.3,425.2 L443.5,390.6 L443.6,422.0 L443.8,429.1 L443.9,448.8 L444.1,375.3 L444.3,396.0 L444.4,439.4 L444.6,436.1 L444.7,418.4 L444.9,391.6 L445.0,368.3 L445.2,349.4 L445.3,323.9 L445.5,334.9 L445.6,358.4 L445.8,398.1 L445.9,407.6 L446.1,459.4 L446.2,457.1 L446.4,450.3 L446.5,488.8 L446.7,471.8 L446.8,441.9 L447.0,439.4 L447.1,403.8 L447.3,413.3 L447.5,443.1 L447.6,416.0 L447.8,447.8 L447.9,474.5 L448.1,434.0 L448.2,470.9 L448.4,451.2 L448.5,458.7 L448.7,425.9 L448.8,457.5 L449.0,465.8 L449.1,412.7 L449.3,443.4 L449.4,465.3 L449.6,445.7 L449.7,406.6 L449.9,383.9 L450.0,396.8 L450.2,383.2 L450.4,414.4 L450.5,394.6 L450.7,388.0 L450.8,390.2 L451.0,440.7 L451.1,433.6 L451.3,448.5 L451.4,491.8 L451.6,484.6 L451.7,431.3 L451.9,469.6 L452.0,476.8 L452.2,453.2 L452.3,409.3 L452.5,373.0 L452.6,338.1 L452.8,311.4 L452.9,337.6 L453.1,374.8 L453.3,412.0 L453.4,396.3 L453.6,404.9 L453.7,408.5 L453.9,414.0 L454.0,383.9 L454.2,399.6 L454.3,389.3 L454.5,394.4 L454.6,412.3 L454.8,401.8 L454.9,413.0 L455.1,384.9 L455.2,424.5 L455.4,453.9 L455.5,440.0 L455.7,465.0 L455.8,472.3 L456.0,488.1 L456.1,431.1 L456.3,423.5 L456.5,461.9 L456.6,457.7 L456.8,450.2 L456.9,420.4 L457.1,446.9 L457.2,439.0 L457.4,409.2 L457.5,393.3 L457.7,377.4 L457.8,406.4 L458.0,456.6 L458.1,424.6 L458.3,452.2 L458.4,387.2 L458.6,419.9 L458.7,436.4 L458.9,385.0 L459.0,448.8 L459.2,469.2 L459.4,480.8 L459.5,434.7 L459.7,396.5 L459.8,367.2 L460.0,342.6 L460.1,367.8 L460.3,423.5 L460.4,401.2 L460.6,426.7 L460.7,429.4 L460.9,403.4 L461.0,382.8 L461.2,381.7 L461.3,379.7 L461.5,369.7 L461.6,402.3 L461.8,397.7 L461.9,411.9 L462.1,423.5 L462.3,455.8 L462.4,474.4 L462.6,491.0 L462.7,462.8 L462.9,466.3 L463.0,452.6 L463.2,433.0 L463.3,440.0 L463.5,441.3 L463.6,506.1 L463.8,522.0 L463.9,504.3 L464.1,472.7 L464.2,432.9 L464.4,476.3 L464.5,458.3 L464.7,432.9 L464.8,440.4 L465.0,358.7 L465.1,403.1 L465.3,377.5 L465.5,400.3 L465.6,376.2 L465.8,357.7 L465.9,319.3 L466.1,303.6 L466.2,321.7 L466.4,340.8 L466.5,350.8 L466.7,390.9 L466.8,401.4 L467.0,368.5 L467.1,339.7 L467.3,352.1 L467.4,337.4 L467.6,336.9 L467.7,373.8 L467.9,390.8 L468.0,452.8 L468.2,402.6 L468.4,298.5 L468.5,267.6 L468.7,224.0 L468.8,254.3 L469.0,305.4 L469.1,340.0 L469.3,352.8 L469.4,386.9 L469.6,387.7 L469.7,412.0 L469.9,430.7 L470.0,365.4 L470.2,373.5 L470.3,381.3 L470.5,288.7 L470.6,337.0 L470.8,344.2 L470.9,299.1 L471.1,289.2 L471.3,297.6 L471.4,300.5 L471.6,313.3 L471.7,297.4 L471.9,287.9 L472.0,277.4 L472.2,324.0 L472.3,280.8 L472.5,282.8 L472.6,299.9 L472.8,316.3 L472.9,407.4 L473.1,392.5 L473.2,396.2 L473.4,427.3 L473.5,382.7 L473.7,293.8 L473.8,313.3 L474.0,255.2 L474.1,219.4 L474.3,243.8 L474.5,298.0 L474.6,343.8 L474.8,344.6 L474.9,356.7 L475.1,371.5 L475.2,357.7 L475.4,288.8 L475.5,299.8 L475.7,299.0 L475.8,322.9 L476.0,319.7 L476.1,290.4 L476.3,313.1 L476.4,352.4 L476.6,338.5 L476.7,290.5 L476.9,266.6 L477.0,245.9 L477.2,280.6 L477.4,304.0 L477.5,358.9 L477.7,411.3 L477.8,370.4 L478.0,361.3 L478.1,319.9 L478.3,425.8 L478.4,360.4 L478.6,312.4 L478.7,321.7 L478.9,293.6 L479.0,305.2 L479.2,281.3 L479.3,263.0 L479.5,281.7 L479.6,308.9 L479.8,332.5 L479.9,355.1 L480.1,357.2 L480.2,359.5 L480.4,358.5 L480.6,334.0 L480.7,293.8 L480.9,281.4 L481.0,269.3 L481.2,279.6 L481.3,309.0 L481.5,312.5 L481.6,338.1 L481.8,316.6 L481.9,363.0 L482.1,354.9 L482.2,383.2 L482.4,426.2 L482.5,364.2 L482.7,397.2 L482.8,361.5 L483.0,379.0 L483.1,338.8 L483.3,315.5 L483.5,324.9 L483.6,317.1 L483.8,350.8 L483.9,316.8 L484.1,366.9 L484.2,371.3 L484.4,358.3 L484.5,331.3 L484.7,321.5 L484.8,322.9 L485.0,344.1 L485.1,365.0 L485.3,323.9 L485.4,339.5 L485.6,329.6 L485.7,347.3 L485.9,372.6 L486.0,338.7 L486.2,386.7 L486.4,455.4 L486.5,398.2 L486.7,391.1 L486.8,419.4 L487.0,340.0 L487.1,339.3 L487.3,338.8 L487.4,296.4 L487.6,281.8 L487.7,308.5 L487.9,336.1 L488.0,333.2 L488.2,353.1 L488.3,348.9 L488.5,352.3 L488.6,366.1 L488.8,396.5 L488.9,405.6 L489.1,426.4 L489.2,466.0 L489.4,454.3 L489.6,475.1 L489.7,488.7 L489.9,496.7 L490.0,501.7 L490.2,494.4 L490.3,479.2 L490.5,459.8 L490.6,424.8 L490.8,391.1 L490.9,431.6 L491.1,384.4 L491.2,382.8 L491.4,404.3 L491.5,389.9 L491.7,405.2 L491.8,396.0 L492.0,420.2 L492.1,396.9 L492.3,403.2 L492.5,400.9 L492.6,411.1 L492.8,411.8 L492.9,461.7 L493.1,456.3 L493.2,483.0 L493.4,478.9 L493.5,468.6 L493.7,447.7 L493.8,459.5 L494.0,437.9 L494.1,412.3 L494.3,447.1 L494.4,462.4 L494.6,443.9 L494.7,435.0 L494.9,442.4 L495.0,385.6 L495.2,440.6 L495.4,395.8 L495.5,392.8 L495.7,370.4 L495.8,361.7 L496.0,341.0 L496.1,350.9 L496.3,376.6 L496.4,394.7 L496.6,364.3 L496.7,367.8 L496.9,361.4 L497.0,387.4 L497.2,400.1 L497.3,479.7 L497.5,457.9 L497.6,452.4 L497.8,478.3 L497.9,453.8 L498.1,478.5 L498.2,429.1 L498.4,423.0 L498.6,432.0 L498.7,425.1 L498.9,391.2 L499.0,456.6 L499.2,408.0 L499.3,359.9 L499.5,341.3 L499.6,405.0 L499.8,465.6 L499.9,500.2 L500.1,478.8 L500.2,417.4 L500.4,379.1 L500.5,427.2 L500.7,369.5 L500.8,397.9 L501.0,405.0 L501.1,461.9 L501.3,429.0 L501.5,355.0 L501.6,302.6 L501.8,259.9 L501.9,305.6 L502.1,371.1 L502.2,427.9 L502.4,444.3 L502.5,360.2 L502.7,320.1 L502.8,340.8 L503.0,338.8 L503.1,322.2 L503.3,343.9 L503.4,358.8 L503.6,327.8 L503.7,335.1 L503.9,346.7 L504.0,340.9 L504.2,387.7 L504.4,420.9 L504.5,351.0 L504.7,348.4 L504.8,319.4 L505.0,308.3 L505.1,336.9 L505.3,355.0 L505.4,383.5 L505.6,353.0 L505.7,393.2 L505.9,434.4 L506.0,397.6 L506.2,357.6 L506.3,395.7 L506.5,338.0 L506.6,370.1 L506.8,365.2 L506.9,366.3 L507.1,403.8 L507.2,342.7 L507.4,342.9 L507.6,349.1 L507.7,358.9 L507.9,340.3 L508.0,358.9 L508.2,367.5 L508.3,340.4 L508.5,315.6 L508.6,278.9 L508.8,264.6 L508.9,277.2 L509.1,291.6 L509.2,304.8 L509.4,316.8 L509.5,335.7 L509.7,314.7 L509.8,363.4 L510.0,400.7 L510.1,389.6 L510.3,420.2 L510.5,445.4 L510.6,442.2 L510.8,463.4 L510.9,436.9 L511.1,430.1 L511.2,395.0 L511.4,445.6 L511.5,464.7 L511.7,496.3 L511.8,463.8 L512.0,397.3 L512.1,342.9 L512.3,367.7 L512.4,368.1 L512.6,327.2 L512.7,342.3 L512.9,374.0 L513.0,374.0 L513.2,401.3 L513.4,425.8 L513.5,422.9 L513.7,390.0 L513.8,321.1 L514.0,312.5 L514.1,307.2 L514.3,294.2 L514.4,307.0 L514.6,318.5 L514.7,325.7 L514.9,326.4 L515.0,356.0 L515.2,373.2 L515.3,407.2 L515.5,393.3 L515.6,347.9 L515.8,356.6 L515.9,387.7 L516.1,384.9 L516.2,444.4 L516.4,411.8 L516.6,462.4 L516.7,453.5 L516.9,403.2 L517.0,384.1 L517.2,439.0 L517.3,409.5 L517.5,340.4 L517.6,293.9 L517.8,273.5 L517.9,250.6 L518.1,280.6 L518.2,318.9 L518.4,301.8 L518.5,325.8 L518.7,368.1 L518.8,343.4 L519.0,371.1 L519.1,357.7 L519.3,370.0 L519.5,361.2 L519.6,353.6 L519.8,383.3 L519.9,416.1 L520.1,356.4 L520.2,379.3 L520.4,344.4 L520.5,390.9 L520.7,424.7 L520.8,434.6 L521.0,335.9 L521.1,343.4 L521.3,383.5 L521.4,400.9 L521.6,390.2 L521.7,345.4 L521.9,352.8 L522.0,417.2 L522.2,397.3 L522.4,362.0 L522.5,309.9 L522.7,280.1 L522.8,255.2 L523.0,281.7 L523.1,299.3 L523.3,294.7 L523.4,343.9 L523.6,324.1 L523.7,343.1 L523.9,332.1 L524.0,337.9 L524.2,315.9 L524.3,332.2 L524.5,321.0 L524.6,326.2 L524.8,407.5 L524.9,363.8 L525.1,407.8 L525.2,379.8 L525.4,399.4 L525.6,345.2 L525.7,357.4 L525.9,321.6 L526.0,295.8 L526.2,310.3 L526.3,332.3 L526.5,363.3 L526.6,332.5 L526.8,373.7 L526.9,348.9 L527.1,369.5 L527.2,373.7 L527.4,365.3 L527.5,356.0 L527.7,357.3 L527.8,333.3 L528.0,389.8 L528.1,406.7 L528.3,366.1 L528.5,437.0 L528.6,435.8 L528.8,434.2 L528.9,438.7 L529.1,438.2 L529.2,426.8 L529.4,442.2 L529.5,411.5 L529.7,365.1 L529.8,348.9 L530.0,366.0 L530.1,339.0 L530.3,359.9 L530.4,365.3 L530.6,351.3 L530.7,356.1 L530.9,352.2 L531.0,408.2 L531.2,423.7 L531.3,397.8 L531.5,414.5 L531.7,432.3 L531.8,436.7 L532.0,438.3 L532.1,422.4 L532.3,441.7 L532.4,401.8 L532.6,393.8 L532.7,418.1 L532.9,396.8 L533.0,361.2 L533.2,347.5 L533.3,322.4 L533.5,310.2 L533.6,300.5 L533.8,312.9 L533.9,338.8 L534.1,344.2 L534.2,359.1 L534.4,343.1 L534.6,356.4 L534.7,348.1 L534.9,343.3 L535.0,390.6 L535.2,363.3 L535.3,371.5 L535.5,421.1 L535.6,461.7 L535.8,452.6 L535.9,451.9 L536.1,416.6 L536.2,400.8 L536.4,404.2 L536.5,363.3 L536.7,402.3 L536.8,389.5 L537.0,364.2 L537.1,408.2 L537.3,458.1 L537.5,476.8 L537.6,463.0 L537.8,443.2 L537.9,392.7 L538.1,470.9 L538.2,468.4 L538.4,464.7 L538.5,457.8 L538.7,466.8 L538.8,453.9 L539.0,462.5 L539.1,451.4 L539.3,430.8 L539.4,400.6 L539.6,404.1 L539.7,366.1 L539.9,371.3 L540.0,363.8 L540.2,375.5 L540.3,357.2 L540.5,361.7 L540.7,358.9 L540.8,397.6 L541.0,395.7 L541.1,393.4 L541.3,451.7 L541.4,439.9 L541.6,399.7 L541.7,358.3 L541.9,295.8 L542.0,267.7 L542.2,288.3 L542.3,319.6 L542.5,388.4 L542.6,378.6 L542.8,349.5 L542.9,333.5 L543.1,435.6 L543.2,368.6 L543.4,335.6 L543.6,326.3 L543.7,323.4 L543.9,347.6 L544.0,346.7 L544.2,358.4 L544.3,360.5 L544.5,356.7 L544.6,341.2 L544.8,343.7 L544.9,427.9 L545.1,439.4 L545.2,442.1 L545.4,454.6 L545.5,457.6 L545.7,445.0 L545.8,399.2 L546.0,411.7 L546.1,458.8 L546.3,398.7 L546.5,439.3 L546.6,431.0 L546.8,369.9 L546.9,390.9 L547.1,394.7 L547.2,450.2 L547.4,423.9 L547.5,401.4 L547.7,431.2 L547.8,420.2 L548.0,424.3 L548.1,435.8 L548.3,405.5 L548.4,383.6 L548.6,435.0 L548.7,442.4 L548.9,434.7 L549.0,459.2 L549.2,449.6 L549.3,464.6 L549.5,452.6 L549.7,469.9 L549.8,472.3 L550.0,475.2 L550.1,471.3 L550.3,458.5 L550.4,403.8 L550.6,412.9 L550.7,376.0 L550.9,358.3 L551.0,354.1 L551.2,359.1 L551.3,419.8 L551.5,412.4 L551.6,389.8 L551.8,364.9 L551.9,364.4 L552.1,366.6 L552.2,398.1 L552.4,448.5 L552.6,475.2 L552.7,449.5 L552.9,417.2 L553.0,430.5 L553.2,464.2 L553.3,463.3 L553.5,412.5 L553.6,447.2 L553.8,456.6 L553.9,457.0 L554.1,449.7 L554.2,451.1 L554.4,445.1 L554.5,445.8 L554.7,391.8 L554.8,400.8 L555.0,354.6 L555.1,360.0 L555.3,376.5 L555.5,379.1 L555.6,382.8 L555.8,361.0 L555.9,342.9 L556.1,312.3 L556.2,305.2 L556.4,329.6 L556.5,323.2 L556.7,368.0 L556.8,442.7 L557.0,415.2 L557.1,435.2 L557.3,439.4 L557.4,426.3 L557.6,430.1 L557.7,438.9 L557.9,432.7 L558.0,449.8 L558.2,407.4 L558.3,346.7 L558.5,298.5 L558.7,288.0 L558.8,300.3 L559.0,322.4 L559.1,342.0 L559.3,359.9 L559.4,355.7 L559.6,346.0 L559.7,332.8 L559.9,311.1 L560.0,310.3 L560.2,327.9 L560.3,344.3 L560.5,320.4 L560.6,351.1 L560.8,399.2 L560.9,446.3 L561.1,425.2 L561.2,338.3 L561.4,312.3 L561.6,248.8 L561.7,200.6 L561.9,241.0 L562.0,286.9 L562.2,287.1 L562.3,273.6 L562.5,322.6 L562.6,271.3 L562.8,291.0 L562.9,289.1 L563.1,353.8 L563.2,319.6 L563.4,314.0 L563.5,309.1 L563.7,292.4 L563.8,387.0 L564.0,343.5 L564.1,346.6 L564.3,394.9 L564.5,415.0 L564.6,431.8 L564.8,450.6 L564.9,493.8 L565.1,495.5 L565.2,490.6 L565.4,478.2 L565.5,443.5 L565.7,373.3 L565.8,397.4 L566.0,414.0 L566.1,341.8 L566.3,366.5 L566.4,375.1 L566.6,410.8 L566.7,378.0 L566.9,349.2 L567.0,362.2 L567.2,348.8 L567.3,327.0 L567.5,303.6 L567.7,329.8 L567.8,336.2 L568.0,365.0 L568.1,453.6 L568.3,440.8 L568.4,443.1 L568.6,397.0 L568.7,429.7 L568.9,440.4 L569.0,429.8 L569.2,438.5 L569.3,408.9 L569.5,373.0 L569.6,328.8 L569.8,311.3 L569.9,302.0 L570.1,313.0 L570.2,332.8 L570.4,328.2 L570.6,351.4 L570.7,362.3 L570.9,375.9 L571.0,349.0 L571.2,385.3 L571.3,382.7 L571.5,358.6 L571.6,363.7 L571.8,421.7 L571.9,407.9 L572.1,414.7 L572.2,401.5 L572.4,435.0 L572.5,387.9 L572.7,421.5 L572.8,441.4 L573.0,421.0 L573.1,410.9 L573.3,415.5 L573.5,389.5 L573.6,371.5 L573.8,350.5 L573.9,344.6 L574.1,333.9 L574.2,357.2 L574.4,337.2 L574.5,352.6 L574.7,393.4 L574.8,408.2 L575.0,378.9 L575.1,355.9 L575.3,356.3 L575.4,338.7 L575.6,383.8 L575.7,421.0 L575.9,348.0 L576.0,386.0 L576.2,345.1 L576.3,335.2 L576.5,305.5 L576.7,294.2 L576.8,302.2 L577.0,320.8 L577.1,355.7 L577.3,416.1 L577.4,416.2 L577.6,406.9 L577.7,417.3 L577.9,436.5 L578.0,374.1 L578.2,409.5 L578.3,448.9 L578.5,429.1 L578.6,377.2 L578.8,424.3 L578.9,451.4 L579.1,461.1 L579.2,487.8 L579.4,489.3 L579.6,501.7 L579.7,485.6 L579.9,448.4 L580.0,420.8 L580.2,448.1 L580.3,449.7 L580.5,466.4 L580.6,448.5 L580.8,441.1 L580.9,443.7 L581.1,408.6 L581.2,453.7 L581.4,449.6 L581.5,442.8 L581.7,464.5 L581.8,454.4 L582.0,457.8 L582.1,439.9 L582.3,435.1 L582.5,388.4 L582.6,413.3 L582.8,390.1 L582.9,408.0 L583.1,424.8 L583.2,428.9 L583.4,403.2 L583.5,405.7 L583.7,437.3 L583.8,443.1 L584.0,391.0 L584.1,417.2 L584.3,367.1 L584.4,387.9 L584.6,311.2 L584.7,300.3 L584.9,288.9 L585.0,280.2 L585.2,292.8 L585.3,309.2 L585.5,325.0 L585.7,364.7 L585.8,343.7 L586.0,339.7 L586.1,329.7 L586.3,325.1 L586.4,313.9 L586.6,368.4 L586.7,319.8 L586.9,324.9 L587.0,334.4 L587.2,318.7 L587.3,363.4 L587.5,362.0 L587.6,327.0 L587.8,288.8 L587.9,261.5 L588.1,293.3 L588.2,321.6 L588.4,324.3 L588.6,380.0 L588.7,407.6 L588.9,380.4 L589.0,411.3 L589.2,423.2 L589.3,381.6 L589.5,302.1 L589.6,297.0 L589.8,240.8 L589.9,222.5 L590.1,251.3 L590.2,255.6 L590.4,279.7 L590.5,314.9 L590.7,372.1 L590.8,426.0 L591.0,464.3 L591.1,428.5 L591.3,369.2 L591.4,300.0 L591.6,369.2 L591.8,332.2 L591.9,284.6 L592.1,338.5 L592.2,283.5 L592.4,311.6 L592.5,302.2 L592.7,286.2 L592.8,292.9 L593.0,263.8 L593.1,230.3 L593.3,263.8 L593.4,319.0 L593.6,371.9 L593.7,411.5 L593.9,420.4 L594.0,413.2 L594.2,373.4 L594.3,397.2 L594.5,405.6 L594.7,350.3 L594.8,315.5 L595.0,329.0 L595.1,344.7 L595.3,299.7 L595.4,336.8 L595.6,395.9 L595.7,378.9 L595.9,310.4 L596.0,369.7 L596.2,364.6 L596.3,331.3 L596.5,317.6 L596.6,353.0 L596.8,327.9 L596.9,349.3 L597.1,325.4 L597.2,328.4 L597.4,306.6 L597.6,276.6 L597.7,259.9 L597.9,274.1 L598.0,302.1 L598.2,327.3 L598.3,326.2 L598.5,309.8 L598.6,320.2 L598.8,304.9 L598.9,380.0 L599.1,380.7 L599.2,381.7 L599.4,389.9 L599.5,393.6 L599.7,394.4 L599.8,386.3 L600.0,349.2 L600.1,311.2 L600.3,311.3 L600.4,312.5 L600.6,315.4 L600.8,319.4 L600.9,314.8 L601.1,317.0 L601.2,299.8 L601.4,284.6 L601.5,268.5 L601.7,255.2 L601.8,271.0 L602.0,285.3 L602.1,298.1 L602.3,316.3 L602.4,312.6 L602.6,318.0 L602.7,393.9 L602.9,381.9 L603.0,380.5 L603.2,365.9 L603.3,382.0 L603.5,373.2 L603.7,378.4 L603.8,379.1 L604.0,366.1 L604.1,369.8 L604.3,374.4 L604.4,291.4 L604.6,291.9 L604.7,288.8 L604.9,275.5 L605.0,239.7 L605.2,232.9 L605.3,192.2 L605.5,178.8 L605.6,192.1 L605.8,215.5 L605.9,231.5 L606.1,282.4 L606.2,269.7 L606.4,254.2 L606.6,282.6 L606.7,291.3 L606.9,305.2 L607.0,366.0 L607.2,393.7 L607.3,366.5 L607.5,325.6 L607.6,314.7 L607.8,334.4 L607.9,373.1 L608.1,360.8 L608.2,297.9 L608.4,322.6 L608.5,357.4 L608.7,418.1 L608.8,415.7 L609.0,357.9 L609.1,346.3 L609.3,371.1 L609.4,311.5 L609.6,356.8 L609.8,370.1 L609.9,319.3 L610.1,303.6 L610.2,294.7 L610.4,288.2 L610.5,275.5 L610.7,286.5 L610.8,297.9 L611.0,313.5 L611.1,316.0 L611.3,327.8 L611.4,298.9 L611.6,335.7 L611.7,394.3 L611.9,416.5 L612.0,437.2 L612.2,384.6 L612.3,420.8 L612.5,360.5 L612.7,291.5 L612.8,246.6 L613.0,211.6 L613.1,241.6 L613.3,284.2 L613.4,359.4 L613.6,415.5 L613.7,451.8 L613.9,416.8 L614.0,348.7 L614.2,292.4 L614.3,306.6 L614.5,300.1 L614.6,293.4 L614.8,285.1 L614.9,302.2 L615.1,319.8 L615.2,382.9 L615.4,391.9 L615.6,380.9 L615.7,318.0 L615.9,300.2 L616.0,313.6 L616.2,363.0 L616.3,319.2 L616.5,286.0 L616.6,277.0 L616.8,263.0 L616.9,272.2 L617.1,287.5 L617.2,308.4 L617.4,341.4 L617.5,373.5 L617.7,367.8 L617.8,366.8 L618.0,337.0 L618.1,392.3 L618.3,409.9 L618.4,388.9 L618.6,402.8 L618.8,362.4 L618.9,382.3 L619.1,335.0 L619.2,384.9 L619.4,342.9 L619.5,373.0 L619.7,332.2 L619.8,360.8 L620.0,333.2 L620.1,298.7 L620.3,308.3 L620.4,291.3 L620.6,285.6 L620.7,297.8 L620.9,289.2 L621.0,265.4 L621.2,234.3 L621.3,214.7 L621.5,230.9 L621.7,295.9 L621.8,331.5 L622.0,419.0 L622.1,437.0 L622.3,414.3 L622.4,439.2 L622.6,459.6 L622.7,455.8 L622.9,439.4 L623.0,381.1 L623.2,452.9 L623.3,415.3 L623.5,449.8 L623.6,436.9 L623.8,440.3 L623.9,415.1 L624.1,377.9 L624.2,293.0 L624.4,276.1 L624.6,270.7 L624.7,232.5 L624.9,214.7 L625.0,234.9 L625.2,258.6 L625.3,303.4 L625.5,359.7 L625.6,363.3 L625.8,363.4 L625.9,356.8 L626.1,404.7 L626.2,442.6 L626.4,475.6 L626.5,509.4 L626.7,522.0 L626.8,507.3 L627.0,491.0 L627.1,457.3 L627.3,465.6 L627.4,428.8 L627.6,388.2 L627.8,453.1 L627.9,390.3 L628.1,338.6 L628.2,360.1 L628.4,346.4 L628.5,356.5 L628.7,310.6 L628.8,295.4 L629.0,264.6 L629.1,293.7 L629.3,338.7 L629.4,376.5 L629.6,409.0 L629.7,413.1 L629.9,399.6 L630.0,407.0 L630.2,415.7 L630.3,402.8 L630.5,359.1 L630.7,363.2 L630.8,356.8 L631.0,323.9 L631.1,347.4 L631.3,321.0 L631.4,346.6 L631.6,306.8 L631.7,339.6 L631.9,356.2 L632.0,307.5 L632.2,339.1 L632.3,324.1 L632.5,343.1 L632.6,317.3 L632.8,299.3 L632.9,297.6 L633.1,316.4 L633.2,302.5 L633.4,305.2 L633.6,313.1 L633.7,328.4 L633.9,325.0 L634.0,373.6 L634.2,344.4 L634.3,324.1 L634.5,333.4 L634.6,305.1 L634.8,303.5 L634.9,279.4 L635.1,249.0 L635.2,261.0 L635.4,275.2 L635.5,311.4 L635.7,377.1 L635.8,402.9 L636.0,381.5 L636.1,384.2 L636.3,355.2 L636.4,361.5 L636.6,319.6 L636.8,352.7 L636.9,332.8 L637.1,343.1 L637.2,340.6 L637.4,299.2 L637.5,331.0 L637.7,289.6 L637.8,244.9 L638.0,220.9 L638.1,241.6 L638.3,291.3 L638.4,271.9 L638.6,326.3 L638.7,353.6 L638.9,309.8 L639.0,300.2 L639.2,344.6 L639.3,303.0 L639.5,318.8 L639.7,376.2 L639.8,442.4 L640.0,475.2 L640.1,443.3 L640.3,375.0 L640.4,329.7 L640.6,329.7 L640.7,317.5 L640.9,353.5 L641.0,362.6 L641.2,383.9 L641.3,328.7 L641.5,339.7 L641.6,337.1 L641.8,352.5 L641.9,334.3 L642.1,332.2 L642.2,337.9 L642.4,323.4 L642.5,306.7 L642.7,314.7 L642.9,333.9 L643.0,346.8 L643.2,338.7 L643.3,357.0 L643.5,361.1 L643.6,368.8 L643.8,370.2 L643.9,365.1 L644.1,364.2 L644.2,369.6 L644.4,367.9 L644.5,345.3 L644.7,338.2 L644.8,330.1 L645.0,371.9 L645.1,383.5 L645.3,381.4 L645.4,372.9 L645.6,377.1 L645.8,360.1 L645.9,327.1 L646.1,351.5 L646.2,335.5 L646.4,354.4 L646.5,334.0 L646.7,309.8 L646.8,287.9 L647.0,277.1 L647.1,293.8 L647.3,334.4 L647.4,330.8 L647.6,396.9 L647.7,372.6 L647.9,362.5 L648.0,374.2 L648.2,382.1 L648.3,402.4 L648.5,388.3 L648.7,395.0 L648.8,388.1 L649.0,411.7 L649.1,377.0 L649.3,371.5 L649.4,317.4 L649.6,339.6 L649.7,298.9 L649.9,270.0 L650.0,257.8 L650.2,244.3 L650.3,260.9 L650.5,300.7 L650.6,296.3 L650.8,343.7 L650.9,306.2 L651.1,324.2 L651.2,352.1 L651.4,322.2 L651.5,353.1 L651.7,331.3 L651.9,332.0 L652.0,410.4 L652.2,380.2 L652.3,405.5 L652.5,365.4 L652.6,435.8 L652.8,392.2 L652.9,410.7 L653.1,418.4 L653.2,379.5 L653.4,389.4 L653.5,434.6 L653.7,458.0 L653.8,434.4 L654.0,400.2 L654.1,390.0 L654.3,363.2 L654.4,369.6 L654.6,400.6 L654.8,376.1 L654.9,361.6 L655.1,347.9 L655.2,357.1 L655.4,339.9 L655.5,358.9 L655.7,384.1 L655.8,411.3 L656.0,335.0 L656.1,340.9 L656.3,375.0 L656.4,347.6 L656.6,308.1 L656.7,283.3 L656.9,304.0 L657.0,342.4 L657.2,383.0 L657.3,359.4 L657.5,369.5 L657.7,422.6 L657.8,435.8 L658.0,443.5 L658.1,418.7 L658.3,422.9 L658.4,392.5 L658.6,393.9 L658.7,397.6 L658.9,366.0 L659.0,441.2 L659.2,383.9 L659.3,431.5 L659.5,428.0 L659.6,421.9 L659.8,419.8 L659.9,394.7 L660.1,413.1 L660.2,387.2 L660.4,384.0 L660.5,388.8 L660.7,420.1 L660.9,467.4 L661.0,488.3 L661.2,468.8 L661.3,444.5 L661.5,382.0 L661.6,388.4 L661.8,375.1 L661.9,389.4 L662.1,375.8 L662.2,404.2 L662.4,416.9 L662.5,428.6 L662.7,417.1 L662.8,403.8 L663.0,445.3 L663.1,429.7 L663.3,449.8 L663.4,465.2 L663.6,453.8 L663.8,466.3 L663.9,472.6 L664.1,444.2 L664.2,425.5 L664.4,430.9 L664.5,411.0 L664.7,398.1 L664.8,369.4 L665.0,353.5 L665.1,374.5 L665.3,395.1 L665.4,428.2 L665.6,425.0 L665.7,454.5 L665.9,455.7 L666.0,454.8 L666.2,443.0 L666.3,456.3 L666.5,432.1 L666.7,466.5 L666.8,447.3 L667.0,456.2 L667.1,457.0 L667.3,448.8 L667.4,419.7 L667.6,428.9 L667.7,382.9 L667.9,413.8 L668.0,408.5 L668.2,415.6 L668.3,366.0 L668.5,321.5 L668.6,303.6 L668.8,323.6 L668.9,370.1 L669.1,370.6 L669.2,377.8 L669.4,419.5 L669.5,403.2 L669.7,427.1 L669.9,408.9 L670.0,453.6 L670.2,446.3 L670.3,389.8 L670.5,403.1 L670.6,393.3 L670.8,408.7 L670.9,419.7 L671.1,416.8 L671.2,361.0 L671.4,336.9 L671.5,343.6 L671.7,335.5 L671.8,341.3 L672.0,355.2 L672.1,328.4 L672.3,281.5 L672.4,253.7 L672.6,288.8 L672.8,339.9 L672.9,398.3 L673.1,445.1 L673.2,447.4 L673.4,467.2 L673.5,482.0 L673.7,495.7 L673.8,473.1 L674.0,487.4 L674.1,474.2 L674.3,405.2 L674.4,432.5 L674.6,424.6 L674.7,418.6 L674.9,472.8 L675.0,502.5 L675.2,473.4 L675.3,432.3 L675.5,365.6 L675.7,344.5 L675.8,339.5 L676.0,328.6 L676.1,337.0 L676.3,365.7 L676.4,374.0 L676.6,403.5 L676.7,425.6 L676.9,376.9 L677.0,386.1 L677.2,405.1 L677.3,412.4 L677.5,429.1 L677.6,403.0 L677.8,416.3 L677.9,426.3 L678.1,423.5 L678.2,418.5 L678.4,418.1 L678.5,403.5 L678.7,416.4 L678.9,396.5 L679.0,408.7 L679.2,382.6 L679.3,404.1 L679.5,405.7 L679.6,406.8 L679.8,456.1 L679.9,455.6 L680.1,424.4 L680.2,415.4 L680.4,400.5 L680.5,355.3 L680.7,330.1 L680.8,355.5 L681.0,400.3 L681.1,433.1 L681.3,467.0 L681.4,471.6 L681.6,462.6 L681.8,461.2 L681.9,459.0 L682.1,462.9 L682.2,415.8 L682.4,424.9 L682.5,412.4 L682.7,373.5 L682.8,375.6 L683.0,387.7 L683.1,375.8 L683.3,388.8 L683.4,368.8 L683.6,394.2 L683.7,380.3 L683.9,374.9 L684.0,396.0 L684.2,391.9 L684.3,393.2 L684.5,384.8 L684.7,372.9 L684.8,374.9 L685.0,392.2 L685.1,422.2 L685.3,407.1 L685.4,387.4 L685.6,369.5 L685.7,347.3 L685.9,367.9 L686.0,402.7 L686.2,432.7 L686.3,425.4 L686.5,419.3 L686.6,459.9 L686.8,419.1 L686.9,448.0 L687.1,453.1 L687.2,452.0 L687.4,427.2 L687.5,455.2 L687.7,429.1 L687.9,417.9 L688.0,386.1 L688.2,373.5 L688.3,368.8 L688.5,392.8 L688.6,359.8 L688.8,357.7 L688.9,381.6 L689.1,401.5 L689.2,406.7 L689.4,433.7 L689.5,432.3 L689.7,425.4 L689.8,398.4 L690.0,376.6 L690.1,458.2 L690.3,404.3 L690.4,427.1 L690.6,470.0 L690.8,426.8 L690.9,450.4 L691.1,429.4 L691.2,427.2 L691.4,399.3 L691.5,381.5 L691.7,365.6 L691.8,345.0 L692.0,379.1 L692.1,376.5 L692.3,394.8 L692.4,401.5 L692.6,461.5 L692.7,444.3 L692.9,353.4 L693.0,303.5 L693.2,279.6 L693.3,258.4 L693.5,282.6 L693.6,318.2 L693.8,336.1 L694.0,352.1 L694.1,366.2 L694.3,429.5 L694.4,368.7 L694.6,362.2 L694.7,417.7 L694.9,473.4 L695.0,500.2 L695.2,477.9 L695.3,427.9 L695.5,391.6 L695.6,366.5 L695.8,391.8 L695.9,365.5 L696.1,382.7 L696.2,374.9 L696.4,385.9 L696.5,371.3 L696.7,407.2 L696.9,375.8 L697.0,355.1 L697.2,376.3 L697.3,377.4 L697.5,392.7 L697.6,429.2 L697.8,427.2 L697.9,478.8 L698.1,477.8 L698.2,473.4 L698.4,461.4 L698.5,480.9 L698.7,473.0 L698.8,480.5 L699.0,446.5 L699.1,413.1 L699.3,387.9 L699.4,366.0 L699.6,383.2 L699.8,407.8 L699.9,419.1 L700.1,440.1 L700.2,430.1 L700.4,401.7 L700.5,418.6 L700.7,434.9 L700.8,423.2 L701.0,427.1 L701.1,433.7 L701.3,402.6 L701.4,406.4 L701.6,415.5 L701.7,455.2 L701.9,470.2 L702.0,458.2 L702.2,465.8 L702.3,462.7 L702.5,464.2 L702.6,466.8 L702.8,468.4 L703.0,439.8 L703.1,408.8 L703.3,407.2 L703.4,427.9 L703.6,427.6 L703.7,405.8 L703.9,408.4 L704.0,431.2 L704.2,451.6 L704.3,427.6 L704.5,412.2 L704.6,428.2 L704.8,406.2 L704.9,387.8 L705.1,402.9 L705.2,433.2 L705.4,426.8 L705.5,436.3 L705.7,419.2 L705.9,425.7 L706.0,448.7 L706.2,432.5 L706.3,425.4 L706.5,422.6 L706.6,410.2 L706.8,440.8 L706.9,480.3 L707.1,492.4 L707.2,489.6 L707.4,485.1 L707.5,484.1 L707.7,482.6 L707.8,482.7 L708.0,484.9 L708.1,483.0 L708.3,447.1 L708.4,423.9 L708.6,392.9 L708.8,371.3 L708.9,392.0 L709.1,396.8 L709.2,431.5 L709.4,452.3 L709.5,411.1 L709.7,422.0 L709.8,406.9 L710.0,410.6 L710.1,399.4 L710.3,406.5 L710.4,393.1 L710.6,427.6 L710.7,424.3 L710.9,453.5 L711.0,461.2 L711.2,465.8 L711.3,468.3 L711.5,409.7 L711.6,400.3 L711.8,437.3 L712.0,441.0 L712.1,445.6 L712.3,416.9 L712.4,421.1 L712.6,386.7 L712.7,377.0 L712.9,371.8 L713.0,370.9 L713.2,353.5 L713.3,363.9 L713.5,383.0 L713.6,400.4 L713.8,407.4 L713.9,413.0 L714.1,403.3 L714.2,381.7 L714.4,411.0 L714.5,393.3 L714.7,441.5 L714.9,445.6 L715.0,461.1 L715.2,458.2 L715.3,458.0 L715.5,459.8 L715.6,464.9 L715.8,451.5 L715.9,448.8 L716.1,440.2 L716.2,451.2 L716.4,443.0 L716.5,389.3 L716.7,421.0 L716.8,381.9 L717.0,378.6 L717.1,366.3 L717.3,357.7 L717.4,348.8 L717.6,356.7 L717.8,367.5 L717.9,399.8 L718.1,429.6 L718.2,386.5 L718.4,387.7 L718.5,397.2 L718.7,395.6 L718.8,449.8 L719.0,474.8 L719.1,474.8 L719.3,462.8 L719.4,439.2 L719.6,459.9 L719.7,463.5 L719.9,457.5 L720.0,441.2 L720.2,485.3 L720.3,484.0 L720.5,491.4 L720.6,491.0 L720.8,492.5 L721.0,488.1 L721.1,495.5 L721.3,496.0 L721.4,497.3 L721.6,493.1 L721.7,500.1 L721.9,496.1 L722.0,502.5 L722.2,498.0 L722.3,491.8 L722.5,480.6 L722.6,451.0 L722.8,433.2 L722.9,452.8 L723.1,435.3 L723.2,468.7 L723.4,483.3 L723.5,458.6 L723.7,453.8 L723.9,481.3 L724.0,435.5 L724.2,444.6 L724.3,487.4 L724.5,462.0 L724.6,434.5 L724.8,442.3 L724.9,418.8 L725.1,433.2 L725.2,432.8 L725.4,424.3 L725.5,415.4 L725.7,404.1 L725.8,399.4 L726.0,381.6 L726.1,399.1 L726.3,427.7 L726.4,412.9 L726.6,469.8 L726.8,465.4 L726.9,431.9 L727.1,443.0 L727.2,426.6 L727.4,423.4 L727.5,420.2 L727.7,423.8 L727.8,402.5 L728.0,406.2 L728.1,396.7 L728.3,383.8 L728.4,398.6 L728.6,433.7 L728.7,430.8 L728.9,474.4 L729.0,448.4 L729.2,434.9 L729.3,458.2 L729.5,492.4 L729.6,450.0 L729.8,469.2 L730.0,462.5 L730.1,480.5 L730.3,470.4 L730.4,477.4 L730.6,437.9 L730.7,482.6 L730.9,513.1 L731.0,522.0 L731.2,514.8 L731.3,522.0 L731.5,522.0 L731.6,522.0 L731.8,496.8 L731.9,487.2 L732.1,485.2 L732.2,471.6 L732.4,503.4 L732.5,486.6 L732.7,479.6 L732.9,473.4 L733.0,495.4 L733.2,504.0 L733.3,506.0 L733.5,499.7 L733.6,522.0 L733.8,522.0 L733.9,522.0 L734.1,500.1 L734.2,503.4 L734.4,497.7 L734.5,493.0 L734.7,519.8 L734.8,519.6 L735.0,519.3 L735.1,519.6 L735.3,519.6 L735.4,519.1 L735.6,518.9 L735.8,519.4 L735.9,519.0 L736.1,522.0 L736.2,522.0 L736.4,522.0 L736.5,518.4 L736.7,492.2 L736.8,473.7 L737.0,457.8 L737.1,455.1 L737.3,418.6 L737.4,414.4 L737.6,421.8 L737.7,428.4 L737.9,442.8 L738.0,443.2 L738.2,451.8 L738.3,442.3 L738.5,456.3 L738.6,481.8 L738.8,498.2 L739.0,496.0 L739.1,484.7 L739.3,516.8 L739.4,516.4 L739.6,517.3 L739.7,516.4 L739.9,515.9 L740.0,516.4 L740.2,516.2 L740.3,516.2 L740.5,464.1 L740.6,455.2 L740.8,411.2 L740.9,395.6 L741.1,412.5 L741.2,431.1 L741.4,454.0 L741.5,513.9 L741.7,504.2 L741.9,472.1 L742.0,476.5 L742.2,464.9 L742.3,427.6 L742.5,447.4 L742.6,461.7 L742.8,418.0 L742.9,459.0 L743.1,437.9 L743.2,440.2 L743.4,455.1 L743.5,418.4 L743.7,422.2 L743.8,410.5 L744.0,397.2 L744.1,419.9 L744.3,433.3 L744.4,480.6 L744.6,509.0 L744.7,509.5 L744.9,507.2 L745.1,509.4 L745.2,507.7 L745.4,506.9 L745.5,479.8 L745.7,453.7 L745.8,412.6 L746.0,400.3 L746.1,408.2 L746.3,415.1 L746.4,419.5 L746.6,443.7 L746.7,442.7 L746.9,441.2 L747.0,447.5 L747.2,446.7 L747.3,448.0 L747.5,446.1 L747.6,446.1 L747.8,446.4 L748.0,447.8 L748.1,442.6 L748.3,440.6 L748.4,430.7 L748.6,433.4 L748.7,441.0 L748.9,477.2 L749.0,475.4 L749.2,468.6 L749.3,519.4 L749.5,519.8 L749.6,520.7 L749.8,521.2 L749.9,521.8 L750.1,483.8 L750.2,495.5 L750.4,469.0 L750.5,437.1 L750.7,415.9 L750.9,433.6 L751.0,448.7 L751.2,456.7 L751.3,465.9 L751.5,485.8 L751.6,489.4 L751.8,455.8 L751.9,477.2 L752.1,480.6 L752.2,474.4 L752.4,486.3 L752.5,468.8 L752.7,439.3 L752.8,465.3 L753.0,448.6 L753.1,480.6 L753.3,457.5 L753.4,486.6 L753.6,460.5 L753.7,494.4 L753.9,486.1 L754.1,522.0 L754.2,478.7 L754.4,479.1 L754.5,484.0 L754.7,496.0 L754.8,479.9 L755.0,478.6 L755.1,496.4 L755.3,450.1 L755.4,476.1 L755.6,489.3 L755.7,504.8 L755.9,483.9 L756.0,484.9 L756.2,522.0 L756.3,491.7 L756.5,504.6 L756.6,504.5 L756.8,522.0 L757.0,522.0 L757.1,522.0 L757.3,486.9 L757.4,483.2 L757.6,478.9 L757.7,489.0 L757.9,487.4 L758.0,499.6 L758.2,501.1 L758.3,522.0 L758.5,504.3 L758.6,481.5 L758.8,481.5 L758.9,464.9 L759.1,504.4 L759.2,522.0 L759.4,522.0 L759.5,522.0 L759.7,503.3 L759.9,470.3 L760.0,505.5 L760.2,494.8 L760.3,521.5 L760.5,504.0 L760.6,504.5 L760.8,501.1 L760.9,501.6 L761.1,504.1 L761.2,497.4 L761.4,504.5 L761.5,493.1 L761.7,494.8 L761.8,473.0 L762.0,474.1 L762.1,499.2 L762.3,487.9 L762.4,500.6 L762.6,503.5 L762.7,485.8 L762.9,490.0 L763.1,462.7 L763.2,478.7 L763.4,515.8 L763.5,484.2 L763.7,497.1 L763.8,490.7 L764.0,504.1 L764.1,515.0 L764.3,462.4 L764.4,499.1 L764.6,488.5 L764.7,494.9 L764.9,491.8 L765.0,492.2 L765.2,475.2 L765.3,447.4 L765.5,474.8 L765.6,467.7 L765.8,510.2 L766.0,512.2 L766.1,511.1 L766.3,512.6 L766.4,510.5 L766.6,471.7 L766.7,458.2 L766.9,426.7 L767.0,405.0 L767.2,426.5 L767.3,458.6 L767.5,486.8 L767.6,513.6 L767.8,494.8 L767.9,514.3 L768.1,514.4 L768.2,503.7 L768.4,494.2 L768.5,516.0 L768.7,490.6 L768.9,515.8 L769.0,494.9 L769.2,504.4 L769.3,516.6 L769.5,496.5 L769.6,495.9 L769.8,505.2 L769.9,517.6 L770.1,493.6 L770.2,490.7 L770.4,476.7 L770.5,519.4 L770.7,486.1 L770.8,478.2 L771.0,448.0 L771.1,447.5 L771.3,470.0 L771.4,485.4 L771.6,448.1 L771.7,492.8 L771.9,521.8 L772.1,497.7 L772.2,504.7 L772.4,522.0 L772.5,499.0 L772.7,460.0 L772.8,448.4 L773.0,430.0 L773.1,443.8 L773.3,476.0 L773.4,480.6 L773.6,505.6 L773.7,522.0 L773.9,499.4 L774.0,522.0 L774.2,522.0 L774.3,504.7 L774.5,522.0 L774.6,522.0 L774.8,504.1 L775.0,468.4 L775.1,505.0 L775.3,504.9 L775.4,505.2 L775.6,493.3 L775.7,502.2 L775.9,495.1 L776.0,492.2 L776.2,501.8 L776.3,490.4 L776.5,500.2 L776.6,499.7 L776.8,485.3 L776.9,522.0 L777.1,449.4 L777.2,497.4 L777.4,497.7 L777.5,460.4 L777.7,444.0 L777.9,385.1 L778.0,366.0 L778.2,387.1 L778.3,444.0 L778.5,459.6 L778.6,465.4 L778.8,480.4 L778.9,488.7 L779.1,466.1 L779.2,459.0 L779.4,504.6 L779.5,522.0 L779.7,505.0 L779.8,480.3 L780.0,522.0 L780.1,522.0 L780.3,522.0 L780.4,522.0 L780.6,522.0 L780.7,503.5 L780.9,522.0 L781.1,505.3 L781.2,478.6 L781.4,488.8 L781.5,475.9 L781.7,469.8 L781.8,471.0 L782.0,504.1 L782.1,474.0 L782.3,473.0 L782.4,471.2 L782.6,489.0 L782.7,461.1 L782.9,522.0 L783.0,522.0 L783.2,522.0 L783.3,522.0 L783.5,522.0 L783.6,522.0 L783.8,503.9 L784.0,522.0 L784.1,522.0 L784.3,522.0 L784.4,522.0 L784.6,522.0 L784.7,522.0 L784.9,505.0 L785.0,487.6 L785.2,451.5 L785.3,444.5 L785.5,436.2 L785.6,445.8 L785.8,451.2 L785.9,471.6 L786.1,486.2 L786.2,470.2 L786.4,503.3 L786.5,522.0 L786.7,522.0 L786.9,497.8 L787.0,505.1 L787.2,522.0 L787.3,522.0 L787.5,522.0 L787.6,522.0 L787.8,490.3 L787.9,522.0 L788.1,498.0 L788.2,522.0 L788.4,522.0 L788.5,499.1 L788.7,503.7 L788.8,522.0 L789.0,505.5 L789.1,505.5 L789.3,522.0 L789.4,505.3 L789.6,522.0 L789.7,489.7 L789.9,499.8 L790.1,522.0 L790.2,522.0 L790.4,505.6 L790.5,502.4 L790.7,492.2 L790.8,522.0 L791.0,487.6 L791.1,489.7 L791.3,465.0 L791.4,488.2 L791.6,479.7 L791.7,486.3 L791.9,504.3 L792.0,495.6 L792.2,505.4 L792.3,502.5 L792.5,484.6 L792.6,463.0 L792.8,439.4 L793.0,426.8 L793.1,445.9 L793.3,456.8 L793.4,482.5 L793.6,485.1 L793.7,465.5 L793.9,467.9 L794.0,498.2 L794.2,462.9 L794.3,482.0 L794.5,491.4 L794.6,487.5 L794.8,498.7 L794.9,492.9 L795.1,493.6 L795.2,468.4 L795.4,451.5 L795.5,464.5 L795.7,494.5 L795.8,466.1 L796.0,522.0 L796.2,522.0 L796.3,487.7 L796.5,522.0 L796.6,522.0 L796.8,522.0 L796.9,522.0 L797.1,504.5 L797.2,493.6 L797.4,492.2 L797.5,503.3 L797.7,522.0 L797.8,482.5 L798.0,522.0 L798.1,484.9 L798.3,522.0 L798.4,522.0 L798.6,484.8 L798.7,457.1 L798.9,488.1 L799.1,427.5 L799.2,446.1 L799.4,421.7 L799.5,412.8 L799.7,422.4 L799.8,418.5 L800.0,436.9 L800.1,442.6 L800.3,443.9 L800.4,440.0 L800.6,438.9 L800.7,425.9 L800.9,434.9 L801.0,445.8 L801.2,405.7 L801.3,362.4 L801.5,336.4 L801.6,365.8 L801.8,402.3 L802.0,446.7 L802.1,503.8 L802.3,474.1 L802.4,462.6 L802.6,462.6 L802.7,471.5 L802.9,503.6 L803.0,481.1 L803.2,505.5 L803.3,522.0 L803.5,522.0 L803.6,471.5 L803.8,522.0 L803.9,522.0 L804.1,458.2 L804.2,461.8 L804.4,465.5 L804.5,476.2 L804.7,482.3 L804.8,473.2 L805.0,477.8 L805.2,433.2 L805.3,477.4 L805.5,443.1 L805.6,485.8 L805.8,481.8 L805.9,504.2 L806.1,522.0 L806.2,522.0 L806.4,504.8 L806.5,522.0 L806.7,504.7 L806.8,496.3 L807.0,522.0 L807.1,522.0 L807.3,522.0 L807.4,522.0 L807.6,522.0 L807.7,522.0 L807.9,522.0 L808.1,522.0 L808.2,522.0 L808.4,522.0 L808.5,522.0 L808.7,522.0 L808.8,522.0 L809.0,522.0 L809.1,522.0 L809.3,522.0 L809.4,522.0 L809.6,504.5 L809.7,501.9 L809.9,499.2 L810.0,497.7 L810.2,500.9 L810.3,492.3 L810.5,522.0 L810.6,522.0 L810.8,522.0 L811.0,522.0 L811.1,522.0 L811.3,522.0 L811.4,522.0 L811.6,522.0 L811.7,522.0 L811.9,522.0 L812.0,512.2 L812.2,502.5 L812.3,490.8 L812.5,483.0 L812.6,490.8 L812.8,502.5 L812.9,512.2 L813.1,522.0 L813.2,522.0 L813.4,522.0 L813.5,522.0 L813.7,506.0 L813.8,504.3 L814.0,522.0 L814.2,522.0 L814.3,505.4 L814.5,522.0 L814.6,505.1 L814.8,504.4 L814.9,522.0 L815.1,522.0 L815.2,522.0 L815.4,505.6 L815.5,522.0 L815.7,522.0 L815.8,522.0 L816.0,522.0 L816.1,522.0 L816.3,522.0 L816.4,522.0 L816.6,522.0 L816.7,522.0 L816.9,522.0 L817.1,522.0 L817.2,522.0 L817.4,522.0 L817.5,522.0 L817.7,489.0 L817.8,522.0 L818.0,522.0 L818.1,522.0 L818.3,522.0 L818.4,522.0 L818.6,522.0 L818.7,522.0 L818.9,522.0 L819.0,522.0 L819.2,496.1 L819.3,503.9 L819.5,503.3 L819.6,491.0 L819.8,492.9 L820.0,493.2 L820.1,522.0 L820.3,491.6 L820.4,496.9 L820.6,522.0 L820.7,497.1 L820.9,497.2 L821.0,493.9 L821.2,494.6 L821.3,494.5 L821.5,497.6 L821.6,522.0 L821.8,522.0 L821.9,522.0 L822.1,496.7 L822.2,522.0 L822.4,494.8 L822.5,495.3 L822.7,522.0 L822.8,522.0 L823.0,522.0 L823.2,522.0 L823.3,522.0 L823.5,522.0 L823.6,522.0 L823.8,522.0 L823.9,522.0 L824.1,522.0 L824.2,522.0 L824.4,522.0 L824.5,522.0 L824.7,522.0 L824.8,505.4 L825.0,522.0 L825.1,522.0 L825.3,522.0 L825.4,522.0 L825.6,511.1 L825.7,500.2 L825.9,487.1 L826.1,478.3 L826.2,487.1 L826.4,500.2 L826.5,511.1 L826.7,522.0 L826.8,522.0 L827.0,504.5 L827.1,522.0 L827.3,522.0 L827.4,504.8 L827.6,522.0 L827.7,522.0 L827.9,522.0 L828.0,522.0 L828.2,522.0 L828.3,503.3 L828.5,522.0 L828.6,522.0 L828.8,522.0 L829.0,522.0 L829.1,522.0 L829.3,522.0 L829.4,522.0 L829.6,522.0 L829.7,522.0 L829.9,522.0 L830.0,522.0 L830.2,522.0 L830.3,522.0 L830.5,522.0 L830.6,522.0 L830.8,522.0 L830.9,504.3 L831.1,522.0 L831.2,522.0 L831.4,522.0 L831.5,522.0 L831.7,522.0 L831.8,504.9 L832.0,522.0 L832.2,522.0 L832.3,522.0 L832.5,522.0 L832.6,522.0 L832.8,522.0 L832.9,522.0 L833.1,522.0 L833.2,522.0 L833.4,522.0 L833.5,522.0 L833.7,522.0 L833.8,503.8 L834.0,522.0 L834.1,522.0 L834.3,522.0 L834.4,522.0 L834.6,498.5 L834.7,488.3 L834.9,490.8 L835.1,483.0 L835.2,490.8 L835.4,502.5 L835.5,512.2 L835.7,522.0 L835.8,522.0 L836.0,522.0 L836.1,522.0 L836.3,489.8 L836.4,522.0 L836.6,522.0 L836.7,522.0 L836.9,522.0 L837.0,522.0 L837.2,522.0 L837.3,503.6 L837.5,522.0 L837.6,491.1 L837.8,522.0 L838.0,505.1 L838.1,486.0 L838.3,491.0 L838.4,504.4 L838.6,522.0 L838.7,491.4 L838.9,489.6 L839.0,503.9 L839.2,490.3 L839.3,484.6 L839.5,496.5 L839.6,483.5 L839.8,489.2 L839.9,487.0 L840.1,501.6 L840.2,495.7 L840.4,483.5 L840.5,503.5 L840.7,522.0 L840.8,522.0 L841.0,522.0 L841.2,522.0 L841.3,508.0 L841.5,485.2 L841.6,473.4 L841.8,465.8 L841.9,477.1 L842.1,493.9 L842.2,508.0 L842.4,522.0 L842.5,522.0 L842.7,522.0 L842.8,522.0 L843.0,522.0 L843.1,522.0 L843.3,522.0 L843.4,522.0 L843.6,522.0 L843.7,505.5 L843.9,522.0 L844.1,505.2 L844.2,522.0 L844.4,505.4 L844.5,522.0 L844.7,522.0 L844.8,522.0 L845.0,522.0 L845.1,522.0 L845.3,487.8 L845.4,469.7 L845.6,448.5 L845.7,434.6 L845.9,452.1 L846.0,478.3 L846.2,500.2 L846.3,504.1 L846.5,522.0 L846.6,522.0 L846.8,504.4 L846.9,503.7 L847.1,504.4 L847.3,505.3 L847.4,522.0 L847.6,522.0 L847.7,522.0 L847.9,522.0 L848.0,522.0 L848.2,522.0 L848.3,522.0 L848.5,522.0 L848.6,522.0 L848.8,522.0 L848.9,522.0 L849.1,522.0 L849.2,522.0 L849.4,522.0 L849.5,516.9 L849.7,511.9 L849.8,505.8 L850.0,501.7 L850.2,505.8 L850.3,511.9 L850.5,516.9 L850.6,522.0 L850.8,522.0 L850.9,522.0 L851.1,522.0 L851.2,522.0 L851.4,522.0 L851.5,522.0" stroke="#eed000" stroke-width="1"/>
<path d="M134.6,464.0 L139.3,501.4 L143.9,479.1 L148.5,429.5 L153.2,489.4 L157.8,513.1 L162.5,495.0 L167.1,443.5 L171.8,464.0 L176.4,483.8 L181.0,487.4 L185.7,489.6 L190.3,485.0 L195.0,498.8 L199.6,466.3 L204.3,487.2 L208.9,476.3 L213.5,493.3 L218.2,510.8 L222.8,513.6 L227.5,491.6 L232.1,488.8 L236.8,498.4 L241.4,506.7 L246.0,515.8 L250.7,519.7 L255.3,518.7 L260.0,495.0 L264.6,515.6 L269.3,517.5 L273.9,497.8 L278.5,516.4 L283.2,514.8 L287.8,513.9 L292.5,521.1 L297.1,521.5 L301.8,520.1 L306.4,515.4 L311.0,511.7 L315.7,520.4 L320.3,520.0 L325.0,520.1 L329.6,521.1 L334.3,520.1 L338.9,517.5 L343.5,512.2 L348.2,513.4 L352.8,522.0 L357.5,510.9 L362.1,510.0 L366.8,511.2 L371.4,496.6 L376.0,491.6 L380.7,477.5 L385.3,484.6 L390.0,505.8 L394.6,500.3 L399.3,492.7 L403.9,482.7 L408.5,475.8 L413.2,465.2 L417.8,469.6 L422.5,468.3 L427.1,483.8 L431.8,479.4 L436.4,446.7 L441.0,399.4 L445.7,403.3 L450.3,431.2 L455.0,434.5 L459.6,421.4 L464.3,419.4 L468.9,334.6 L473.5,325.9 L478.2,305.0 L482.8,351.5 L487.5,374.7 L492.1,447.4 L496.8,386.9 L501.4,388.0 L506.0,371.5 L510.7,378.5 L515.3,365.8 L520.0,374.1 L524.6,375.8 L529.3,402.7 L533.9,385.3 L538.5,433.4 L543.2,372.1 L547.8,427.0 L552.5,399.9 L557.1,354.6 L561.8,334.5 L566.4,402.3 L571.0,387.5 L575.7,378.8 L580.3,437.0 L585.0,343.5 L589.6,344.3 L594.3,328.2 L598.9,339.5 L603.5,294.1 L608.2,321.2 L612.8,346.5 L617.5,346.5 L622.1,361.5 L626.8,365.7 L631.4,355.2 L636.0,319.2 L640.7,381.6 L645.3,360.4 L650.0,345.9 L654.6,376.9 L659.3,417.9 L663.9,437.0 L668.5,404.5 L673.2,383.5 L677.8,418.3 L682.5,419.4 L687.1,421.5 L691.8,399.4 L696.4,422.8 L701.0,425.0 L705.7,431.5 L710.3,433.1 L715.0,434.0 L719.6,437.6 L724.3,462.9 L728.9,441.7 L733.5,490.0 L738.2,471.5 L742.8,443.7 L747.5,452.4 L752.1,469.9 L756.8,488.6 L761.4,493.1 L766.0,481.3 L770.7,480.8 L775.3,494.4 L780.0,471.6 L784.6,492.5 L789.3,492.0 L793.9,494.2 L798.5,471.1 L803.2,453.8 L807.8,501.4 L812.5,513.1 L817.1,509.2 L821.8,511.4 L826.4,505.3 L831.0,518.1 L835.7,508.1 L840.3,501.6 L845.0,497.7 L849.6,519.5" stroke="#0000ff" stroke-width="1.4"/>
<path d="M134.6,460.6 L139.3,461.3 L143.9,462.1 L148.5,465.8 L153.2,470.5 L157.8,475.7 L162.5,479.2 L167.1,480.0 L171.8,479.3 L176.4,481.2 L181.0,483.0 L185.7,481.7 L190.3,481.5 L195.0,485.1 L199.6,489.1 L204.3,490.5 L208.9,491.2 L213.5,492.3 L218.2,494.3 L222.8,496.5 L227.5,499.5 L232.1,502.1 L236.8,504.0 L241.4,506.7 L246.0,507.1 L250.7,506.7 L255.3,507.8 L260.0,509.8 L264.6,511.8 L269.3,513.4 L273.9,514.2 L278.5,514.2 L283.2,513.7 L287.8,514.5 L292.5,515.7 L297.1,516.0 L301.8,517.1 L306.4,518.2 L311.0,518.5 L315.7,518.5 L320.3,518.1 L325.0,517.8 L329.6,517.5 L334.3,516.8 L338.9,516.6 L343.5,515.6 L348.2,513.4 L352.8,510.4 L357.5,507.2 L362.1,505.0 L366.8,503.7 L371.4,502.2 L376.0,500.1 L380.7,496.9 L385.3,493.1 L390.0,489.5 L394.6,486.0 L399.3,483.7 L403.9,482.6 L408.5,480.9 L413.2,476.0 L417.8,468.2 L422.5,461.0 L427.1,455.7 L431.8,450.8 L436.4,445.9 L441.0,438.1 L445.7,426.6 L450.3,413.8 L455.0,401.5 L459.6,391.7 L464.3,387.3 L468.9,386.8 L473.5,385.7 L478.2,382.6 L482.8,377.7 L487.5,373.1 L492.1,368.9 L496.8,368.7 L501.4,373.6 L506.0,380.2 L510.7,386.9 L515.3,390.2 L520.0,389.3 L524.6,389.0 L529.3,388.1 L533.9,385.2 L538.5,384.6 L543.2,386.5 L547.8,387.6 L552.5,390.4 L557.1,390.5 L561.8,386.3 L566.4,380.2 L571.0,374.5 L575.7,367.6 L580.3,358.7 L585.0,355.1 L589.6,355.3 L594.3,354.1 L598.9,351.5 L603.5,349.6 L608.2,343.7 L612.8,340.4 L617.5,342.6 L622.1,344.0 L626.8,346.3 L631.4,353.1 L636.0,363.0 L640.7,370.3 L645.3,374.2 L650.0,378.1 L654.6,382.7 L659.3,387.7 L663.9,393.8 L668.5,398.9 L673.2,403.3 L677.8,409.6 L682.5,415.5 L687.1,418.5 L691.8,419.2 L696.4,421.6 L701.0,426.5 L705.7,431.9 L710.3,437.1 L715.0,440.2 L719.6,443.3 L724.3,447.5 L728.9,452.1 L733.5,457.3 L738.2,461.9 L742.8,465.8 L747.5,470.2 L752.1,472.9 L756.8,475.4 L761.4,477.6 L766.0,478.6 L770.7,480.7 L775.3,481.9 L780.0,483.3 L784.6,485.6 L789.3,487.3 L793.9,489.2 L798.5,491.5 L803.2,493.5 L807.8,496.0 L812.5,497.9 L817.1,498.5 L821.8,499.8" stroke="#ff0000" stroke-width="2.1"/>
<path d="M821.8,499.8 L826.5,503.9 L830.0,506.7 L836.0,509.2 L843.0,511.9 L847.4,514.2 L853.5,517.9 L858.0,520.1 L860.6,521.2 L864.5,522.0 L870.0,522.5 L905.0,522.5" stroke="#ff0000" stroke-width="2.1" stroke-dasharray="4.17,6.94,1.39,6.94" stroke-dashoffset="-5"/>
<path d="M821.8,499.8 L824.8,499.2 L833.6,503.6 L837.5,505.9 L848.0,509.7 L856.0,511.7 L864.5,513.1 L872.7,514.5 L881.0,515.3 L885.0,514.5 L888.0,512.5 L892.0,510.3 L896.0,507.6 L902.4,503.0 L905.7,500.8" stroke="#ff0000" stroke-width="2.1" stroke-dasharray="8.33,8.33" stroke-dashoffset="-3.8"/>
</g>
<g stroke="#000" stroke-width="1" stroke-dasharray="1.39,4.17" fill="none" opacity="0.72">
<line x1="151.5" y1="522" x2="151.5" y2="54"/>
<line x1="262.5" y1="522" x2="262.5" y2="54"/>
<line x1="374.5" y1="522" x2="374.5" y2="54"/>
<line x1="485.5" y1="522" x2="485.5" y2="54"/>
<line x1="597.5" y1="522" x2="597.5" y2="54"/>
<line x1="708.5" y1="522" x2="708.5" y2="54"/>
<line x1="819.5" y1="522" x2="819.5" y2="54"/>
<line x1="130" y1="444.5" x2="910" y2="444.5"/>
<line x1="130" y1="366.5" x2="910" y2="366.5"/>
<line x1="130" y1="288.5" x2="910" y2="288.5"/>
<line x1="130" y1="210.5" x2="910" y2="210.5"/>
<line x1="130" y1="132.5" x2="910" y2="132.5"/>
</g>
<g stroke="#000" stroke-width="1" fill="none" shape-rendering="crispEdges">
<line x1="151.5" y1="522.5" x2="151.5" y2="516"/>
<line x1="151.5" y1="54.5" x2="151.5" y2="61"/>
<line x1="262.5" y1="522.5" x2="262.5" y2="516"/>
<line x1="262.5" y1="54.5" x2="262.5" y2="61"/>
<line x1="374.5" y1="522.5" x2="374.5" y2="516"/>
<line x1="374.5" y1="54.5" x2="374.5" y2="61"/>
<line x1="485.5" y1="522.5" x2="485.5" y2="516"/>
<line x1="485.5" y1="54.5" x2="485.5" y2="61"/>
<line x1="597.5" y1="522.5" x2="597.5" y2="516"/>
<line x1="597.5" y1="54.5" x2="597.5" y2="61"/>
<line x1="708.5" y1="522.5" x2="708.5" y2="516"/>
<line x1="708.5" y1="54.5" x2="708.5" y2="61"/>
<line x1="819.5" y1="522.5" x2="819.5" y2="516"/>
<line x1="819.5" y1="54.5" x2="819.5" y2="61"/>
<line x1="179.5" y1="522.5" x2="179.5" y2="519"/>
<line x1="179.5" y1="54.5" x2="179.5" y2="58"/>
<line x1="207.5" y1="522.5" x2="207.5" y2="519"/>
<line x1="207.5" y1="54.5" x2="207.5" y2="58"/>
<line x1="234.5" y1="522.5" x2="234.5" y2="519"/>
<line x1="234.5" y1="54.5" x2="234.5" y2="58"/>
<line x1="290.5" y1="522.5" x2="290.5" y2="519"/>
<line x1="290.5" y1="54.5" x2="290.5" y2="58"/>
<line x1="318.5" y1="522.5" x2="318.5" y2="519"/>
<line x1="318.5" y1="54.5" x2="318.5" y2="58"/>
<line x1="346.5" y1="522.5" x2="346.5" y2="519"/>
<line x1="346.5" y1="54.5" x2="346.5" y2="58"/>
<line x1="402.5" y1="522.5" x2="402.5" y2="519"/>
<line x1="402.5" y1="54.5" x2="402.5" y2="58"/>
<line x1="429.5" y1="522.5" x2="429.5" y2="519"/>
<line x1="429.5" y1="54.5" x2="429.5" y2="58"/>
<line x1="457.5" y1="522.5" x2="457.5" y2="519"/>
<line x1="457.5" y1="54.5" x2="457.5" y2="58"/>
<line x1="513.5" y1="522.5" x2="513.5" y2="519"/>
<line x1="513.5" y1="54.5" x2="513.5" y2="58"/>
<line x1="541.5" y1="522.5" x2="541.5" y2="519"/>
<line x1="541.5" y1="54.5" x2="541.5" y2="58"/>
<line x1="569.5" y1="522.5" x2="569.5" y2="519"/>
<line x1="569.5" y1="54.5" x2="569.5" y2="58"/>
<line x1="624.5" y1="522.5" x2="624.5" y2="519"/>
<line x1="624.5" y1="54.5" x2="624.5" y2="58"/>
<line x1="652.5" y1="522.5" x2="652.5" y2="519"/>
<line x1="652.5" y1="54.5" x2="652.5" y2="58"/>
<line x1="680.5" y1="522.5" x2="680.5" y2="519"/>
<line x1="680.5" y1="54.5" x2="680.5" y2="58"/>
<line x1="736.5" y1="522.5" x2="736.5" y2="519"/>
<line x1="736.5" y1="54.5" x2="736.5" y2="58"/>
<line x1="764.5" y1="522.5" x2="764.5" y2="519"/>
<line x1="764.5" y1="54.5" x2="764.5" y2="58"/>
<line x1="792.5" y1="522.5" x2="792.5" y2="519"/>
<line x1="792.5" y1="54.5" x2="792.5" y2="58"/>
<line x1="847.5" y1="522.5" x2="847.5" y2="519"/>
<line x1="847.5" y1="54.5" x2="847.5" y2="58"/>
<line x1="875.5" y1="522.5" x2="875.5" y2="519"/>
<line x1="875.5" y1="54.5" x2="875.5" y2="58"/>
<line x1="130.5" y1="522.5" x2="137" y2="522.5"/>
<line x1="910.5" y1="522.5" x2="904" y2="522.5"/>
<line x1="130.5" y1="506.5" x2="134" y2="506.5"/>
<line x1="910.5" y1="506.5" x2="907" y2="506.5"/>
<line x1="130.5" y1="491.5" x2="134" y2="491.5"/>
<line x1="910.5" y1="491.5" x2="907" y2="491.5"/>
<line x1="130.5" y1="475.5" x2="134" y2="475.5"/>
<line x1="910.5" y1="475.5" x2="907" y2="475.5"/>
<line x1="130.5" y1="460.5" x2="134" y2="460.5"/>
<line x1="910.5" y1="460.5" x2="907" y2="460.5"/>
<line x1="130.5" y1="444.5" x2="137" y2="444.5"/>
<line x1="910.5" y1="444.5" x2="904" y2="444.5"/>
<line x1="130.5" y1="428.5" x2="134" y2="428.5"/>
<line x1="910.5" y1="428.5" x2="907" y2="428.5"/>
<line x1="130.5" y1="413.5" x2="134" y2="413.5"/>
<line x1="910.5" y1="413.5" x2="907" y2="413.5"/>
<line x1="130.5" y1="397.5" x2="134" y2="397.5"/>
<line x1="910.5" y1="397.5" x2="907" y2="397.5"/>
<line x1="130.5" y1="382.5" x2="134" y2="382.5"/>
<line x1="910.5" y1="382.5" x2="907" y2="382.5"/>
<line x1="130.5" y1="366.5" x2="137" y2="366.5"/>
<line x1="910.5" y1="366.5" x2="904" y2="366.5"/>
<line x1="130.5" y1="350.5" x2="134" y2="350.5"/>
<line x1="910.5" y1="350.5" x2="907" y2="350.5"/>
<line x1="130.5" y1="335.5" x2="134" y2="335.5"/>
<line x1="910.5" y1="335.5" x2="907" y2="335.5"/>
<line x1="130.5" y1="319.5" x2="134" y2="319.5"/>
<line x1="910.5" y1="319.5" x2="907" y2="319.5"/>
<line x1="130.5" y1="304.5" x2="134" y2="304.5"/>
<line x1="910.5" y1="304.5" x2="907" y2="304.5"/>
<line x1="130.5" y1="288.5" x2="137" y2="288.5"/>
<line x1="910.5" y1="288.5" x2="904" y2="288.5"/>
<line x1="130.5" y1="272.5" x2="134" y2="272.5"/>
<line x1="910.5" y1="272.5" x2="907" y2="272.5"/>
<line x1="130.5" y1="257.5" x2="134" y2="257.5"/>
<line x1="910.5" y1="257.5" x2="907" y2="257.5"/>
<line x1="130.5" y1="241.5" x2="134" y2="241.5"/>
<line x1="910.5" y1="241.5" x2="907" y2="241.5"/>
<line x1="130.5" y1="226.5" x2="134" y2="226.5"/>
<line x1="910.5" y1="226.5" x2="907" y2="226.5"/>
<line x1="130.5" y1="210.5" x2="137" y2="210.5"/>
<line x1="910.5" y1="210.5" x2="904" y2="210.5"/>
<line x1="130.5" y1="194.5" x2="134" y2="194.5"/>
<line x1="910.5" y1="194.5" x2="907" y2="194.5"/>
<line x1="130.5" y1="179.5" x2="134" y2="179.5"/>
<line x1="910.5" y1="179.5" x2="907" y2="179.5"/>
<line x1="130.5" y1="163.5" x2="134" y2="163.5"/>
<line x1="910.5" y1="163.5" x2="907" y2="163.5"/>
<line x1="130.5" y1="148.5" x2="134" y2="148.5"/>
<line x1="910.5" y1="148.5" x2="907" y2="148.5"/>
<line x1="130.5" y1="132.5" x2="137" y2="132.5"/>
<line x1="910.5" y1="132.5" x2="904" y2="132.5"/>
<line x1="130.5" y1="116.5" x2="134" y2="116.5"/>
<line x1="910.5" y1="116.5" x2="907" y2="116.5"/>
<line x1="130.5" y1="101.5" x2="134" y2="101.5"/>
<line x1="910.5" y1="101.5" x2="907" y2="101.5"/>
<line x1="130.5" y1="85.5" x2="134" y2="85.5"/>
<line x1="910.5" y1="85.5" x2="907" y2="85.5"/>
<line x1="130.5" y1="70.5" x2="134" y2="70.5"/>
<line x1="910.5" y1="70.5" x2="907" y2="70.5"/>
<line x1="130.5" y1="54.5" x2="137" y2="54.5"/>
<line x1="910.5" y1="54.5" x2="904" y2="54.5"/>
<rect x="130.5" y="54.5" width="780" height="468"/>
</g>
<g font-family="'DejaVu Sans', 'Liberation Sans', sans-serif" font-size="16.67" fill="#000">
<text x="150.86" y="540" text-anchor="middle" letter-spacing="-0.5">2006</text>
<text x="262.29" y="540" text-anchor="middle" letter-spacing="-0.5">2008</text>
<text x="373.72" y="540" text-anchor="middle" letter-spacing="-0.5">2010</text>
<text x="485.15" y="540" text-anchor="middle" letter-spacing="-0.5">2012</text>
<text x="596.58" y="540" text-anchor="middle" letter-spacing="-0.5">2014</text>
<text x="708.01" y="540" text-anchor="middle" letter-spacing="-0.5">2016</text>
<text x="819.44" y="540" text-anchor="middle" letter-spacing="-0.5">2018</text>
<text x="125" y="526.00" text-anchor="end" letter-spacing="-0.4">0</text>
<text x="125" y="448.00" text-anchor="end" letter-spacing="-0.4">50</text>
<text x="125" y="370.00" text-anchor="end" letter-spacing="-0.4">100</text>
<text x="125" y="292.00" text-anchor="end" letter-spacing="-0.4">150</text>
<text x="125" y="214.00" text-anchor="end" letter-spacing="-0.4">200</text>
<text x="125" y="136.00" text-anchor="end" letter-spacing="-0.4">250</text>
<text x="125" y="58.00" text-anchor="end" letter-spacing="-0.4">300</text>
<text x="521" y="560.8" text-anchor="middle">Time (years)</text>
<text transform="translate(80,368) rotate(-90)">Sunspot number <tspan font-family="'Liberation Serif', serif" font-size="18">S</tspan><tspan font-family="'Liberation Serif', serif" font-size="11" dy="4">n</tspan></text>
<text x="215" y="46" font-size="20">International sunspot number</text>
<text x="518" y="46" font-size="21" font-family="'Liberation Serif', serif">S</text>
<text x="529.3" y="50.8" font-size="13.5" font-family="'Liberation Serif', serif">n</text>
<text x="540.2" y="46" font-size="20">: last 13 years and forecasts</text>
</g>
<rect x="688.5" y="62.5" width="214" height="102" fill="#fff" stroke="#000" stroke-width="1" shape-rendering="crispEdges"/>
<g font-family="'DejaVu Sans', 'Liberation Sans', sans-serif" font-size="16.67" fill="#000">
<line x1="700" y1="75.50" x2="724" y2="75.50" stroke="#eed000" stroke-width="1" />
<text x="740.6" y="80.50" letter-spacing="-0.45">Daily</text>
<line x1="700" y1="93.75" x2="724" y2="93.75" stroke="#0000ff" stroke-width="1.4" />
<text x="740.6" y="98.75" letter-spacing="-0.3">Monthly</text>
<line x1="700" y1="112.00" x2="724" y2="112.00" stroke="#ff0000" stroke-width="2.1" />
<text x="740.6" y="117.00">Monthly smoothed</text>
<line x1="700" y1="130.25" x2="724" y2="130.25" stroke="#ff0000" stroke-width="2.1" stroke-dasharray="4.2,7,1.4,7"/>
<text x="740.6" y="135.25">SC Predictions</text>
<line x1="700" y1="148.50" x2="724" y2="148.50" stroke="#ff0000" stroke-width="2.1" stroke-dasharray="8.3,8.3"/>
<text x="740.6" y="153.50">CM Predictions</text>
</g>
<text x="325.6" y="594" font-family="'DejaVu Serif', 'Liberation Serif', serif" font-size="13.89" fill="#000" xml:space="preserve" style="white-space:pre">SILSO graphics (http://sidc.be/silso)  Royal Observatory of Belgium  2018 August 1</text>
</svg>
</body></html>
